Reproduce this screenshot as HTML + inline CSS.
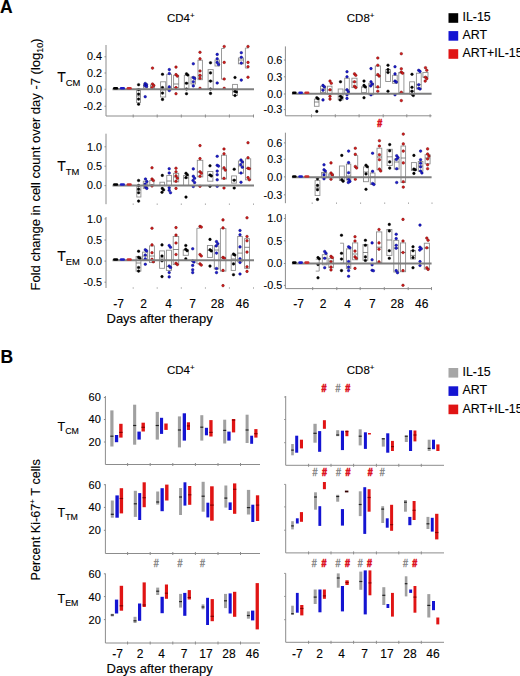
<!DOCTYPE html>
<html><head><meta charset="utf-8"><style>
html,body{margin:0;padding:0;background:#fff;}
svg{display:block;font-family:"Liberation Sans", sans-serif;}
text{stroke-width:0.12px;}
html,body{width:520px;height:676px;overflow:hidden;}
</style></head><body>
<svg width="520" height="676" viewBox="0 0 520 676">
<rect width="520" height="676" fill="#fff"/>
<text x="0" y="12.7" font-size="17.5" text-anchor="start" fill="#000" stroke="#000" font-weight="bold" >A</text>
<text x="0.6" y="362.9" font-size="17.5" text-anchor="start" fill="#000" stroke="#000" font-weight="bold" >B</text>
<text x="167" y="22" font-size="11.5" fill="#000" stroke="#000">CD4<tspan font-size="8" dy="-4">+</tspan></text>
<text x="346.8" y="22" font-size="11.5" fill="#000" stroke="#000">CD8<tspan font-size="8" dy="-4">+</tspan></text>
<text x="167" y="373.6" font-size="11.5" fill="#000" stroke="#000">CD4<tspan font-size="8" dy="-4">+</tspan></text>
<text x="346.8" y="373.6" font-size="11.5" fill="#000" stroke="#000">CD8<tspan font-size="8" dy="-4">+</tspan></text>
<rect x="448.50" y="13.20" width="9.70" height="9.60" fill="#000000" stroke="none" stroke-width="0"/>
<text x="462.5" y="21.1" font-size="12.4" text-anchor="start" fill="#000" stroke="#000" font-weight="normal" >IL-15</text>
<rect x="448.50" y="31.10" width="9.70" height="9.60" fill="#1414d2" stroke="none" stroke-width="0"/>
<text x="462.5" y="39.0" font-size="12.4" text-anchor="start" fill="#000" stroke="#000" font-weight="normal" >ART</text>
<rect x="448.50" y="49.20" width="9.70" height="9.60" fill="#e01414" stroke="none" stroke-width="0"/>
<text x="462.5" y="57.1" font-size="12.4" text-anchor="start" fill="#000" stroke="#000" font-weight="normal" >ART+IL-15</text>
<rect x="448.50" y="368.00" width="9.70" height="9.60" fill="#a6a6a6" stroke="none" stroke-width="0"/>
<text x="462.5" y="375.9" font-size="12.4" text-anchor="start" fill="#000" stroke="#000" font-weight="normal" >IL-15</text>
<rect x="448.50" y="386.30" width="9.70" height="9.60" fill="#1414d2" stroke="none" stroke-width="0"/>
<text x="462.5" y="394.2" font-size="12.4" text-anchor="start" fill="#000" stroke="#000" font-weight="normal" >ART</text>
<rect x="448.50" y="404.60" width="9.70" height="9.60" fill="#e01414" stroke="none" stroke-width="0"/>
<text x="462.5" y="412.5" font-size="12.4" text-anchor="start" fill="#000" stroke="#000" font-weight="normal" >ART+IL-15</text>
<text transform="translate(39.6,290.5) rotate(-90)" font-size="13" fill="#000" stroke="#000">Fold change in cell count over day -7 (log<tspan font-size="9" dy="3">10</tspan><tspan dy="-3">)</tspan></text>
<text transform="translate(39.6,580.5) rotate(-90)" font-size="12.7" fill="#000" stroke="#000">Percent Ki-67<tspan font-size="8" dy="-5">+</tspan><tspan dy="5"> T cells</tspan></text>
<text x="57.2" y="81.9" font-size="14" fill="#000" stroke="#000">T<tspan font-size="9.4" dy="4.2">CM</tspan></text>
<text x="57.2" y="171.1" font-size="14" fill="#000" stroke="#000">T<tspan font-size="9.4" dy="4.2">TM</tspan></text>
<text x="57.2" y="261.1" font-size="14" fill="#000" stroke="#000">T<tspan font-size="9.4" dy="4.2">EM</tspan></text>
<text x="57.5" y="430.6" font-size="12.5" fill="#000" stroke="#000">T<tspan font-size="8.8" dy="3.6">CM</tspan></text>
<text x="57.5" y="516.8" font-size="12.5" fill="#000" stroke="#000">T<tspan font-size="8.8" dy="3.6">TM</tspan></text>
<text x="57.5" y="602.8" font-size="12.5" fill="#000" stroke="#000">T<tspan font-size="8.8" dy="3.6">EM</tspan></text>
<line x1="106" y1="45" x2="106" y2="116" stroke="#8c8c8c" stroke-width="1"/>
<line x1="106" y1="116" x2="254" y2="116" stroke="#8c8c8c" stroke-width="1"/>
<line x1="133.2" y1="114.5" x2="133.2" y2="117.5" stroke="#8c8c8c" stroke-width="1"/>
<line x1="157.2" y1="114.5" x2="157.2" y2="117.5" stroke="#8c8c8c" stroke-width="1"/>
<line x1="181.3" y1="114.5" x2="181.3" y2="117.5" stroke="#8c8c8c" stroke-width="1"/>
<line x1="205.4" y1="114.5" x2="205.4" y2="117.5" stroke="#8c8c8c" stroke-width="1"/>
<line x1="229.4" y1="114.5" x2="229.4" y2="117.5" stroke="#8c8c8c" stroke-width="1"/>
<line x1="253.5" y1="114.5" x2="253.5" y2="117.5" stroke="#8c8c8c" stroke-width="1"/>
<line x1="104.5" y1="56.75" x2="106" y2="56.75" stroke="#8c8c8c" stroke-width="1"/>
<line x1="104.5" y1="73" x2="106" y2="73" stroke="#8c8c8c" stroke-width="1"/>
<line x1="104.5" y1="89.25" x2="106" y2="89.25" stroke="#8c8c8c" stroke-width="1"/>
<line x1="104.5" y1="106.25" x2="106" y2="106.25" stroke="#8c8c8c" stroke-width="1"/>
<text x="102" y="60.45" font-size="10.8" text-anchor="end" fill="#000" stroke="#000" font-weight="normal" >0.4</text>
<text x="102" y="76.7" font-size="10.8" text-anchor="end" fill="#000" stroke="#000" font-weight="normal" >0.2</text>
<text x="102" y="92.95" font-size="10.8" text-anchor="end" fill="#000" stroke="#000" font-weight="normal" >0.0</text>
<text x="102" y="109.95" font-size="10.8" text-anchor="end" fill="#000" stroke="#000" font-weight="normal" >-0.2</text>
<line x1="106" y1="133.7" x2="106" y2="204.2" stroke="#8c8c8c" stroke-width="1"/>
<line x1="133.2" y1="203.39999999999998" x2="133.2" y2="205.0" stroke="#b0b0b0" stroke-width="1"/>
<line x1="157.2" y1="203.39999999999998" x2="157.2" y2="205.0" stroke="#b0b0b0" stroke-width="1"/>
<line x1="181.3" y1="203.39999999999998" x2="181.3" y2="205.0" stroke="#b0b0b0" stroke-width="1"/>
<line x1="205.4" y1="203.39999999999998" x2="205.4" y2="205.0" stroke="#b0b0b0" stroke-width="1"/>
<line x1="229.4" y1="203.39999999999998" x2="229.4" y2="205.0" stroke="#b0b0b0" stroke-width="1"/>
<line x1="253.5" y1="203.39999999999998" x2="253.5" y2="205.0" stroke="#b0b0b0" stroke-width="1"/>
<line x1="104.5" y1="146.8" x2="106" y2="146.8" stroke="#8c8c8c" stroke-width="1"/>
<line x1="104.5" y1="166.2" x2="106" y2="166.2" stroke="#8c8c8c" stroke-width="1"/>
<line x1="104.5" y1="185.6" x2="106" y2="185.6" stroke="#8c8c8c" stroke-width="1"/>
<text x="102" y="150.5" font-size="10.8" text-anchor="end" fill="#000" stroke="#000" font-weight="normal" >1.0</text>
<text x="102" y="169.89999999999998" font-size="10.8" text-anchor="end" fill="#000" stroke="#000" font-weight="normal" >0.5</text>
<text x="102" y="189.29999999999998" font-size="10.8" text-anchor="end" fill="#000" stroke="#000" font-weight="normal" >0.0</text>
<line x1="106" y1="217" x2="106" y2="288" stroke="#8c8c8c" stroke-width="1"/>
<line x1="133.2" y1="287.2" x2="133.2" y2="288.8" stroke="#b0b0b0" stroke-width="1"/>
<line x1="157.2" y1="287.2" x2="157.2" y2="288.8" stroke="#b0b0b0" stroke-width="1"/>
<line x1="181.3" y1="287.2" x2="181.3" y2="288.8" stroke="#b0b0b0" stroke-width="1"/>
<line x1="205.4" y1="287.2" x2="205.4" y2="288.8" stroke="#b0b0b0" stroke-width="1"/>
<line x1="229.4" y1="287.2" x2="229.4" y2="288.8" stroke="#b0b0b0" stroke-width="1"/>
<line x1="253.5" y1="287.2" x2="253.5" y2="288.8" stroke="#b0b0b0" stroke-width="1"/>
<line x1="104.5" y1="218.9" x2="106" y2="218.9" stroke="#8c8c8c" stroke-width="1"/>
<line x1="104.5" y1="240" x2="106" y2="240" stroke="#8c8c8c" stroke-width="1"/>
<line x1="104.5" y1="261.1" x2="106" y2="261.1" stroke="#8c8c8c" stroke-width="1"/>
<line x1="104.5" y1="282.2" x2="106" y2="282.2" stroke="#8c8c8c" stroke-width="1"/>
<text x="102" y="222.6" font-size="10.8" text-anchor="end" fill="#000" stroke="#000" font-weight="normal" >1.0</text>
<text x="102" y="243.7" font-size="10.8" text-anchor="end" fill="#000" stroke="#000" font-weight="normal" >0.5</text>
<text x="102" y="264.8" font-size="10.8" text-anchor="end" fill="#000" stroke="#000" font-weight="normal" >0.0</text>
<text x="102" y="285.9" font-size="10.8" text-anchor="end" fill="#000" stroke="#000" font-weight="normal" >-0.5</text>
<line x1="285.4" y1="46.4" x2="285.4" y2="115.8" stroke="#8c8c8c" stroke-width="1"/>
<line x1="285.4" y1="115.8" x2="431.6" y2="115.8" stroke="#8c8c8c" stroke-width="1"/>
<line x1="311.5" y1="114.3" x2="311.5" y2="117.3" stroke="#8c8c8c" stroke-width="1"/>
<line x1="335.3" y1="114.3" x2="335.3" y2="117.3" stroke="#8c8c8c" stroke-width="1"/>
<line x1="359.1" y1="114.3" x2="359.1" y2="117.3" stroke="#8c8c8c" stroke-width="1"/>
<line x1="383.2" y1="114.3" x2="383.2" y2="117.3" stroke="#8c8c8c" stroke-width="1"/>
<line x1="406.8" y1="114.3" x2="406.8" y2="117.3" stroke="#8c8c8c" stroke-width="1"/>
<line x1="430.1" y1="114.3" x2="430.1" y2="117.3" stroke="#8c8c8c" stroke-width="1"/>
<line x1="283.9" y1="60" x2="285.4" y2="60" stroke="#8c8c8c" stroke-width="1"/>
<line x1="283.9" y1="76.8" x2="285.4" y2="76.8" stroke="#8c8c8c" stroke-width="1"/>
<line x1="283.9" y1="94" x2="285.4" y2="94" stroke="#8c8c8c" stroke-width="1"/>
<line x1="283.9" y1="109.6" x2="285.4" y2="109.6" stroke="#8c8c8c" stroke-width="1"/>
<text x="282.2" y="63.7" font-size="10.8" text-anchor="end" fill="#000" stroke="#000" font-weight="normal" >0.6</text>
<text x="282.2" y="80.5" font-size="10.8" text-anchor="end" fill="#000" stroke="#000" font-weight="normal" >0.3</text>
<text x="282.2" y="97.7" font-size="10.8" text-anchor="end" fill="#000" stroke="#000" font-weight="normal" >0.0</text>
<text x="282.2" y="113.3" font-size="10.8" text-anchor="end" fill="#000" stroke="#000" font-weight="normal" >-0.3</text>
<line x1="285.4" y1="132.7" x2="285.4" y2="203.2" stroke="#8c8c8c" stroke-width="1"/>
<line x1="312.2" y1="202.39999999999998" x2="312.2" y2="204.0" stroke="#b0b0b0" stroke-width="1"/>
<line x1="336.5" y1="202.39999999999998" x2="336.5" y2="204.0" stroke="#b0b0b0" stroke-width="1"/>
<line x1="360.6" y1="202.39999999999998" x2="360.6" y2="204.0" stroke="#b0b0b0" stroke-width="1"/>
<line x1="384.7" y1="202.39999999999998" x2="384.7" y2="204.0" stroke="#b0b0b0" stroke-width="1"/>
<line x1="408.5" y1="202.39999999999998" x2="408.5" y2="204.0" stroke="#b0b0b0" stroke-width="1"/>
<line x1="432" y1="202.39999999999998" x2="432" y2="204.0" stroke="#b0b0b0" stroke-width="1"/>
<line x1="283.9" y1="142.9" x2="285.4" y2="142.9" stroke="#8c8c8c" stroke-width="1"/>
<line x1="283.9" y1="159.3" x2="285.4" y2="159.3" stroke="#8c8c8c" stroke-width="1"/>
<line x1="283.9" y1="176.9" x2="285.4" y2="176.9" stroke="#8c8c8c" stroke-width="1"/>
<line x1="283.9" y1="194.8" x2="285.4" y2="194.8" stroke="#8c8c8c" stroke-width="1"/>
<text x="282.2" y="146.6" font-size="10.8" text-anchor="end" fill="#000" stroke="#000" font-weight="normal" >0.6</text>
<text x="282.2" y="163.0" font-size="10.8" text-anchor="end" fill="#000" stroke="#000" font-weight="normal" >0.3</text>
<text x="282.2" y="180.6" font-size="10.8" text-anchor="end" fill="#000" stroke="#000" font-weight="normal" >0.0</text>
<text x="282.2" y="198.5" font-size="10.8" text-anchor="end" fill="#000" stroke="#000" font-weight="normal" >-0.3</text>
<line x1="285.4" y1="214" x2="285.4" y2="288.6" stroke="#8c8c8c" stroke-width="1"/>
<line x1="285.4" y1="288.6" x2="431.6" y2="288.6" stroke="#8c8c8c" stroke-width="1"/>
<line x1="312.7" y1="287.1" x2="312.7" y2="290.1" stroke="#8c8c8c" stroke-width="1"/>
<line x1="336.8" y1="287.1" x2="336.8" y2="290.1" stroke="#8c8c8c" stroke-width="1"/>
<line x1="360.2" y1="287.1" x2="360.2" y2="290.1" stroke="#8c8c8c" stroke-width="1"/>
<line x1="384.3" y1="287.1" x2="384.3" y2="290.1" stroke="#8c8c8c" stroke-width="1"/>
<line x1="408.2" y1="287.1" x2="408.2" y2="290.1" stroke="#8c8c8c" stroke-width="1"/>
<line x1="431.5" y1="287.1" x2="431.5" y2="290.1" stroke="#8c8c8c" stroke-width="1"/>
<line x1="283.9" y1="218.5" x2="285.4" y2="218.5" stroke="#8c8c8c" stroke-width="1"/>
<line x1="283.9" y1="240.8" x2="285.4" y2="240.8" stroke="#8c8c8c" stroke-width="1"/>
<line x1="283.9" y1="263.5" x2="285.4" y2="263.5" stroke="#8c8c8c" stroke-width="1"/>
<line x1="283.9" y1="285.4" x2="285.4" y2="285.4" stroke="#8c8c8c" stroke-width="1"/>
<text x="282.2" y="222.2" font-size="10.8" text-anchor="end" fill="#000" stroke="#000" font-weight="normal" >1.0</text>
<text x="282.2" y="244.5" font-size="10.8" text-anchor="end" fill="#000" stroke="#000" font-weight="normal" >0.5</text>
<text x="282.2" y="267.2" font-size="10.8" text-anchor="end" fill="#000" stroke="#000" font-weight="normal" >0.0</text>
<text x="282.2" y="289.09999999999997" font-size="10.8" text-anchor="end" fill="#000" stroke="#000" font-weight="normal" >-0.5</text>
<text x="118.5" y="307.5" font-size="12" text-anchor="middle" fill="#000" stroke="#000" font-weight="normal" >-7</text>
<text x="143.5" y="307.5" font-size="12" text-anchor="middle" fill="#000" stroke="#000" font-weight="normal" >2</text>
<text x="168.5" y="307.5" font-size="12" text-anchor="middle" fill="#000" stroke="#000" font-weight="normal" >4</text>
<text x="192.5" y="307.5" font-size="12" text-anchor="middle" fill="#000" stroke="#000" font-weight="normal" >7</text>
<text x="217.5" y="307.5" font-size="12" text-anchor="middle" fill="#000" stroke="#000" font-weight="normal" >28</text>
<text x="242.5" y="307.5" font-size="12" text-anchor="middle" fill="#000" stroke="#000" font-weight="normal" >46</text>
<text x="298.6" y="307.5" font-size="12" text-anchor="middle" fill="#000" stroke="#000" font-weight="normal" >-7</text>
<text x="323" y="307.5" font-size="12" text-anchor="middle" fill="#000" stroke="#000" font-weight="normal" >2</text>
<text x="347.5" y="307.5" font-size="12" text-anchor="middle" fill="#000" stroke="#000" font-weight="normal" >4</text>
<text x="372.4" y="307.5" font-size="12" text-anchor="middle" fill="#000" stroke="#000" font-weight="normal" >7</text>
<text x="397.2" y="307.5" font-size="12" text-anchor="middle" fill="#000" stroke="#000" font-weight="normal" >28</text>
<text x="421.7" y="307.5" font-size="12" text-anchor="middle" fill="#000" stroke="#000" font-weight="normal" >46</text>
<text x="106.5" y="323" font-size="13" text-anchor="start" fill="#000" stroke="#000" font-weight="normal" >Days after therapy</text>
<rect x="136.60" y="89.00" width="3.90" height="13.70" fill="#ffffff" stroke="#8e8e8e" stroke-width="0.9"/>
<line x1="136.6" y1="96" x2="140.5" y2="96" stroke="#6a6a6a" stroke-width="0.8"/>
<circle cx="138.60" cy="84.70" r="1.3" fill="#000000" stroke="#000000" stroke-width="0.45"/>
<circle cx="138.60" cy="89.80" r="1.3" fill="#000000" stroke="#000000" stroke-width="0.45"/>
<circle cx="138.60" cy="94.10" r="1.3" fill="#000000" stroke="#000000" stroke-width="0.45"/>
<circle cx="138.60" cy="99.10" r="1.3" fill="#000000" stroke="#000000" stroke-width="0.45"/>
<circle cx="138.60" cy="104.20" r="1.3" fill="#000000" stroke="#000000" stroke-width="0.45"/>
<rect x="143.50" y="84.00" width="3.80" height="4.00" fill="#ffffff" stroke="#8e8e8e" stroke-width="0.9"/>
<circle cx="145.20" cy="83.50" r="1.3" fill="#1c1cd0" stroke="#000070" stroke-width="0.45"/>
<circle cx="146.50" cy="84.70" r="1.3" fill="#1c1cd0" stroke="#000070" stroke-width="0.45"/>
<circle cx="144.90" cy="85.50" r="1.3" fill="#1c1cd0" stroke="#000070" stroke-width="0.45"/>
<circle cx="146.50" cy="86.50" r="1.3" fill="#1c1cd0" stroke="#000070" stroke-width="0.45"/>
<circle cx="145.20" cy="96.70" r="1.3" fill="#1c1cd0" stroke="#000070" stroke-width="0.45"/>
<rect x="150.50" y="85.00" width="4.00" height="4.00" fill="#ffffff" stroke="#8e8e8e" stroke-width="0.9"/>
<circle cx="152.50" cy="68.10" r="1.3" fill="#d81c1c" stroke="#6a0808" stroke-width="0.45"/>
<circle cx="152.50" cy="84.00" r="1.3" fill="#d81c1c" stroke="#6a0808" stroke-width="0.45"/>
<circle cx="153.80" cy="85.50" r="1.3" fill="#d81c1c" stroke="#6a0808" stroke-width="0.45"/>
<circle cx="152.20" cy="87.50" r="1.3" fill="#d81c1c" stroke="#6a0808" stroke-width="0.45"/>
<rect x="160.60" y="81.80" width="5.10" height="15.20" fill="#ffffff" stroke="#8e8e8e" stroke-width="0.9"/>
<line x1="160.6" y1="90" x2="165.7" y2="90" stroke="#6a6a6a" stroke-width="0.8"/>
<circle cx="162.50" cy="74.30" r="1.3" fill="#000000" stroke="#000000" stroke-width="0.45"/>
<circle cx="162.50" cy="87.60" r="1.3" fill="#000000" stroke="#000000" stroke-width="0.45"/>
<circle cx="162.50" cy="93.10" r="1.3" fill="#000000" stroke="#000000" stroke-width="0.45"/>
<circle cx="162.50" cy="99.40" r="1.3" fill="#000000" stroke="#000000" stroke-width="0.45"/>
<rect x="166.80" y="74.30" width="4.70" height="15.50" fill="#ffffff" stroke="#8e8e8e" stroke-width="0.9"/>
<line x1="166.8" y1="88" x2="171.5" y2="88" stroke="#6a6a6a" stroke-width="0.8"/>
<circle cx="169.30" cy="69.60" r="1.3" fill="#1c1cd0" stroke="#000070" stroke-width="0.45"/>
<circle cx="169.30" cy="73.50" r="1.3" fill="#1c1cd0" stroke="#000070" stroke-width="0.45"/>
<circle cx="169.30" cy="86.90" r="1.3" fill="#1c1cd0" stroke="#000070" stroke-width="0.45"/>
<circle cx="169.30" cy="90.50" r="1.3" fill="#1c1cd0" stroke="#000070" stroke-width="0.45"/>
<rect x="173.60" y="75.30" width="5.10" height="12.30" fill="#ffffff" stroke="#8e8e8e" stroke-width="0.9"/>
<line x1="173.6" y1="84" x2="178.7" y2="84" stroke="#6a6a6a" stroke-width="0.8"/>
<circle cx="176.00" cy="67.10" r="1.3" fill="#d81c1c" stroke="#6a0808" stroke-width="0.45"/>
<circle cx="176.00" cy="74.60" r="1.3" fill="#d81c1c" stroke="#6a0808" stroke-width="0.45"/>
<circle cx="177.30" cy="76.10" r="1.3" fill="#d81c1c" stroke="#6a0808" stroke-width="0.45"/>
<circle cx="176.00" cy="87.60" r="1.3" fill="#d81c1c" stroke="#6a0808" stroke-width="0.45"/>
<circle cx="176.00" cy="93.70" r="1.3" fill="#d81c1c" stroke="#6a0808" stroke-width="0.45"/>
<rect x="184.30" y="75.30" width="4.60" height="13.70" fill="#ffffff" stroke="#8e8e8e" stroke-width="0.9"/>
<line x1="184.3" y1="83" x2="188.9" y2="83" stroke="#6a6a6a" stroke-width="0.8"/>
<circle cx="186.50" cy="73.90" r="1.3" fill="#000000" stroke="#000000" stroke-width="0.45"/>
<circle cx="187.80" cy="75.00" r="1.3" fill="#000000" stroke="#000000" stroke-width="0.45"/>
<circle cx="186.50" cy="83.30" r="1.3" fill="#000000" stroke="#000000" stroke-width="0.45"/>
<circle cx="186.50" cy="89.00" r="1.3" fill="#000000" stroke="#000000" stroke-width="0.45"/>
<circle cx="186.50" cy="93.70" r="1.3" fill="#000000" stroke="#000000" stroke-width="0.45"/>
<rect x="191.00" y="77.00" width="4.50" height="7.00" fill="#ffffff" stroke="#8e8e8e" stroke-width="0.9"/>
<circle cx="193.30" cy="63.80" r="1.3" fill="#1c1cd0" stroke="#000070" stroke-width="0.45"/>
<circle cx="193.30" cy="77.50" r="1.3" fill="#1c1cd0" stroke="#000070" stroke-width="0.45"/>
<circle cx="194.60" cy="78.50" r="1.3" fill="#1c1cd0" stroke="#000070" stroke-width="0.45"/>
<circle cx="193.30" cy="81.80" r="1.3" fill="#1c1cd0" stroke="#000070" stroke-width="0.45"/>
<circle cx="193.30" cy="85.90" r="1.3" fill="#1c1cd0" stroke="#000070" stroke-width="0.45"/>
<rect x="198.00" y="60.20" width="4.40" height="19.50" fill="#ffffff" stroke="#8e8e8e" stroke-width="0.9"/>
<line x1="198" y1="76" x2="202.4" y2="76" stroke="#6a6a6a" stroke-width="0.8"/>
<circle cx="200.00" cy="52.30" r="1.3" fill="#d81c1c" stroke="#6a0808" stroke-width="0.45"/>
<circle cx="200.00" cy="58.80" r="1.3" fill="#d81c1c" stroke="#6a0808" stroke-width="0.45"/>
<circle cx="200.00" cy="71.00" r="1.3" fill="#d81c1c" stroke="#6a0808" stroke-width="0.45"/>
<circle cx="200.00" cy="75.30" r="1.3" fill="#d81c1c" stroke="#6a0808" stroke-width="0.45"/>
<circle cx="200.00" cy="78.20" r="1.3" fill="#d81c1c" stroke="#6a0808" stroke-width="0.45"/>
<circle cx="200.00" cy="88.30" r="1.3" fill="#d81c1c" stroke="#6a0808" stroke-width="0.45"/>
<rect x="208.10" y="69.60" width="5.10" height="19.40" fill="#ffffff" stroke="#8e8e8e" stroke-width="0.9"/>
<line x1="208.1" y1="81.1" x2="213.2" y2="81.1" stroke="#6a6a6a" stroke-width="0.8"/>
<circle cx="210.50" cy="62.80" r="1.3" fill="#000000" stroke="#000000" stroke-width="0.45"/>
<circle cx="210.50" cy="72.90" r="1.3" fill="#000000" stroke="#000000" stroke-width="0.45"/>
<circle cx="210.50" cy="81.10" r="1.3" fill="#000000" stroke="#000000" stroke-width="0.45"/>
<circle cx="210.50" cy="89.00" r="1.3" fill="#000000" stroke="#000000" stroke-width="0.45"/>
<circle cx="210.50" cy="93.40" r="1.3" fill="#000000" stroke="#000000" stroke-width="0.45"/>
<rect x="215.00" y="60.00" width="4.50" height="6.00" fill="#ffffff" stroke="#8e8e8e" stroke-width="0.9"/>
<circle cx="217.20" cy="54.40" r="1.3" fill="#1c1cd0" stroke="#000070" stroke-width="0.45"/>
<circle cx="217.20" cy="58.80" r="1.3" fill="#1c1cd0" stroke="#000070" stroke-width="0.45"/>
<circle cx="217.20" cy="62.40" r="1.3" fill="#1c1cd0" stroke="#000070" stroke-width="0.45"/>
<circle cx="218.50" cy="64.50" r="1.3" fill="#1c1cd0" stroke="#000070" stroke-width="0.45"/>
<circle cx="217.20" cy="83.00" r="1.3" fill="#1c1cd0" stroke="#000070" stroke-width="0.45"/>
<path d="M224.50,48.50H221.50V79.20H224.50" fill="none" stroke="#8e8e8e" stroke-width="0.9"/>
<circle cx="224.20" cy="46.50" r="1.3" fill="#d81c1c" stroke="#6a0808" stroke-width="0.45"/>
<circle cx="224.20" cy="62.40" r="1.3" fill="#d81c1c" stroke="#6a0808" stroke-width="0.45"/>
<circle cx="224.20" cy="79.00" r="1.3" fill="#d81c1c" stroke="#6a0808" stroke-width="0.45"/>
<circle cx="224.20" cy="88.30" r="1.3" fill="#d81c1c" stroke="#6a0808" stroke-width="0.45"/>
<rect x="232.60" y="84.40" width="4.80" height="11.10" fill="#ffffff" stroke="#8e8e8e" stroke-width="0.9"/>
<line x1="232.6" y1="92" x2="237.4" y2="92" stroke="#6a6a6a" stroke-width="0.8"/>
<circle cx="235.00" cy="77.50" r="1.3" fill="#000000" stroke="#000000" stroke-width="0.45"/>
<circle cx="235.00" cy="91.20" r="1.3" fill="#000000" stroke="#000000" stroke-width="0.45"/>
<circle cx="236.30" cy="92.00" r="1.3" fill="#000000" stroke="#000000" stroke-width="0.45"/>
<circle cx="235.00" cy="95.50" r="1.3" fill="#000000" stroke="#000000" stroke-width="0.45"/>
<rect x="238.40" y="58.00" width="5.10" height="5.80" fill="#ffffff" stroke="#8e8e8e" stroke-width="0.9"/>
<line x1="238.4" y1="60" x2="243.5" y2="60" stroke="#6a6a6a" stroke-width="0.8"/>
<circle cx="241.30" cy="52.70" r="1.3" fill="#1c1cd0" stroke="#000070" stroke-width="0.45"/>
<circle cx="241.30" cy="57.30" r="1.3" fill="#1c1cd0" stroke="#000070" stroke-width="0.45"/>
<circle cx="241.30" cy="63.10" r="1.3" fill="#1c1cd0" stroke="#000070" stroke-width="0.45"/>
<circle cx="241.30" cy="80.10" r="1.3" fill="#1c1cd0" stroke="#000070" stroke-width="0.45"/>
<path d="M248.40,48.00H245.40V68.10H248.40" fill="none" stroke="#8e8e8e" stroke-width="0.9"/>
<circle cx="248.00" cy="46.50" r="1.3" fill="#d81c1c" stroke="#6a0808" stroke-width="0.45"/>
<circle cx="248.00" cy="62.40" r="1.3" fill="#d81c1c" stroke="#6a0808" stroke-width="0.45"/>
<circle cx="248.00" cy="66.70" r="1.3" fill="#d81c1c" stroke="#6a0808" stroke-width="0.45"/>
<circle cx="248.00" cy="77.20" r="1.3" fill="#d81c1c" stroke="#6a0808" stroke-width="0.45"/>
<rect x="136.80" y="185.50" width="4.10" height="11.50" fill="#ffffff" stroke="#8e8e8e" stroke-width="0.9"/>
<line x1="136.8" y1="190" x2="140.9" y2="190" stroke="#6a6a6a" stroke-width="0.8"/>
<circle cx="138.60" cy="180.50" r="1.3" fill="#000000" stroke="#000000" stroke-width="0.45"/>
<circle cx="138.60" cy="185.50" r="1.3" fill="#000000" stroke="#000000" stroke-width="0.45"/>
<circle cx="138.60" cy="189.10" r="1.3" fill="#000000" stroke="#000000" stroke-width="0.45"/>
<circle cx="138.60" cy="192.70" r="1.3" fill="#000000" stroke="#000000" stroke-width="0.45"/>
<circle cx="138.60" cy="201.10" r="1.3" fill="#000000" stroke="#000000" stroke-width="0.45"/>
<rect x="143.30" y="181.20" width="4.40" height="7.20" fill="#ffffff" stroke="#8e8e8e" stroke-width="0.9"/>
<circle cx="145.50" cy="179.00" r="1.3" fill="#1c1cd0" stroke="#000070" stroke-width="0.45"/>
<circle cx="146.80" cy="181.60" r="1.3" fill="#1c1cd0" stroke="#000070" stroke-width="0.45"/>
<circle cx="145.20" cy="184.10" r="1.3" fill="#1c1cd0" stroke="#000070" stroke-width="0.45"/>
<circle cx="145.50" cy="187.00" r="1.3" fill="#1c1cd0" stroke="#000070" stroke-width="0.45"/>
<circle cx="146.80" cy="188.40" r="1.3" fill="#1c1cd0" stroke="#000070" stroke-width="0.45"/>
<rect x="149.80" y="180.50" width="4.10" height="4.30" fill="#ffffff" stroke="#8e8e8e" stroke-width="0.9"/>
<circle cx="152.00" cy="167.80" r="1.3" fill="#d81c1c" stroke="#6a0808" stroke-width="0.45"/>
<circle cx="152.00" cy="179.00" r="1.3" fill="#d81c1c" stroke="#6a0808" stroke-width="0.45"/>
<circle cx="153.30" cy="180.50" r="1.3" fill="#d81c1c" stroke="#6a0808" stroke-width="0.45"/>
<circle cx="152.00" cy="186.00" r="1.3" fill="#d81c1c" stroke="#6a0808" stroke-width="0.45"/>
<rect x="159.90" y="182.20" width="4.60" height="3.30" fill="#ffffff" stroke="#8e8e8e" stroke-width="0.9"/>
<circle cx="162.30" cy="175.40" r="1.3" fill="#000000" stroke="#000000" stroke-width="0.45"/>
<circle cx="162.30" cy="188.40" r="1.3" fill="#000000" stroke="#000000" stroke-width="0.45"/>
<circle cx="163.60" cy="189.90" r="1.3" fill="#000000" stroke="#000000" stroke-width="0.45"/>
<circle cx="162.00" cy="192.30" r="1.3" fill="#000000" stroke="#000000" stroke-width="0.45"/>
<rect x="166.80" y="175.40" width="4.70" height="10.10" fill="#ffffff" stroke="#8e8e8e" stroke-width="0.9"/>
<line x1="166.8" y1="181" x2="171.5" y2="181" stroke="#6a6a6a" stroke-width="0.8"/>
<circle cx="169.20" cy="168.70" r="1.3" fill="#1c1cd0" stroke="#000070" stroke-width="0.45"/>
<circle cx="169.20" cy="173.00" r="1.3" fill="#1c1cd0" stroke="#000070" stroke-width="0.45"/>
<circle cx="169.20" cy="187.70" r="1.3" fill="#1c1cd0" stroke="#000070" stroke-width="0.45"/>
<circle cx="169.20" cy="190.30" r="1.3" fill="#1c1cd0" stroke="#000070" stroke-width="0.45"/>
<circle cx="170.50" cy="192.70" r="1.3" fill="#1c1cd0" stroke="#000070" stroke-width="0.45"/>
<rect x="173.60" y="173.30" width="5.10" height="8.60" fill="#ffffff" stroke="#8e8e8e" stroke-width="0.9"/>
<line x1="173.6" y1="177" x2="178.7" y2="177" stroke="#6a6a6a" stroke-width="0.8"/>
<circle cx="176.00" cy="168.20" r="1.3" fill="#d81c1c" stroke="#6a0808" stroke-width="0.45"/>
<circle cx="176.00" cy="171.80" r="1.3" fill="#d81c1c" stroke="#6a0808" stroke-width="0.45"/>
<circle cx="176.00" cy="175.90" r="1.3" fill="#d81c1c" stroke="#6a0808" stroke-width="0.45"/>
<circle cx="177.30" cy="178.30" r="1.3" fill="#d81c1c" stroke="#6a0808" stroke-width="0.45"/>
<circle cx="176.00" cy="181.20" r="1.3" fill="#d81c1c" stroke="#6a0808" stroke-width="0.45"/>
<circle cx="176.00" cy="188.40" r="1.3" fill="#d81c1c" stroke="#6a0808" stroke-width="0.45"/>
<rect x="183.60" y="175.40" width="5.10" height="10.10" fill="#ffffff" stroke="#8e8e8e" stroke-width="0.9"/>
<line x1="183.6" y1="178" x2="188.7" y2="178" stroke="#6a6a6a" stroke-width="0.8"/>
<circle cx="186.00" cy="173.30" r="1.3" fill="#000000" stroke="#000000" stroke-width="0.45"/>
<circle cx="187.30" cy="174.70" r="1.3" fill="#000000" stroke="#000000" stroke-width="0.45"/>
<circle cx="186.00" cy="177.60" r="1.3" fill="#000000" stroke="#000000" stroke-width="0.45"/>
<circle cx="186.00" cy="197.10" r="1.3" fill="#000000" stroke="#000000" stroke-width="0.45"/>
<circle cx="193.30" cy="168.90" r="1.3" fill="#1c1cd0" stroke="#000070" stroke-width="0.45"/>
<circle cx="193.30" cy="176.20" r="1.3" fill="#1c1cd0" stroke="#000070" stroke-width="0.45"/>
<circle cx="194.60" cy="178.30" r="1.3" fill="#1c1cd0" stroke="#000070" stroke-width="0.45"/>
<circle cx="193.00" cy="180.50" r="1.3" fill="#1c1cd0" stroke="#000070" stroke-width="0.45"/>
<circle cx="194.60" cy="182.60" r="1.3" fill="#1c1cd0" stroke="#000070" stroke-width="0.45"/>
<circle cx="193.30" cy="186.50" r="1.3" fill="#1c1cd0" stroke="#000070" stroke-width="0.45"/>
<rect x="197.30" y="160.30" width="5.50" height="16.60" fill="#ffffff" stroke="#8e8e8e" stroke-width="0.9"/>
<line x1="197.3" y1="172" x2="202.8" y2="172" stroke="#6a6a6a" stroke-width="0.8"/>
<circle cx="200.00" cy="145.60" r="1.3" fill="#d81c1c" stroke="#6a0808" stroke-width="0.45"/>
<circle cx="200.00" cy="158.60" r="1.3" fill="#d81c1c" stroke="#6a0808" stroke-width="0.45"/>
<circle cx="200.00" cy="171.80" r="1.3" fill="#d81c1c" stroke="#6a0808" stroke-width="0.45"/>
<circle cx="201.30" cy="173.30" r="1.3" fill="#d81c1c" stroke="#6a0808" stroke-width="0.45"/>
<circle cx="200.00" cy="176.20" r="1.3" fill="#d81c1c" stroke="#6a0808" stroke-width="0.45"/>
<circle cx="200.00" cy="186.30" r="1.3" fill="#d81c1c" stroke="#6a0808" stroke-width="0.45"/>
<rect x="207.70" y="171.50" width="5.20" height="9.70" fill="#ffffff" stroke="#8e8e8e" stroke-width="0.9"/>
<line x1="207.7" y1="175.5" x2="212.9" y2="175.5" stroke="#6a6a6a" stroke-width="0.8"/>
<circle cx="210.00" cy="165.80" r="1.3" fill="#000000" stroke="#000000" stroke-width="0.45"/>
<circle cx="210.00" cy="175.00" r="1.3" fill="#000000" stroke="#000000" stroke-width="0.45"/>
<circle cx="211.30" cy="175.90" r="1.3" fill="#000000" stroke="#000000" stroke-width="0.45"/>
<circle cx="210.00" cy="186.30" r="1.3" fill="#000000" stroke="#000000" stroke-width="0.45"/>
<circle cx="217.20" cy="156.30" r="1.3" fill="#1c1cd0" stroke="#000070" stroke-width="0.45"/>
<circle cx="217.20" cy="165.30" r="1.3" fill="#1c1cd0" stroke="#000070" stroke-width="0.45"/>
<circle cx="218.50" cy="166.10" r="1.3" fill="#1c1cd0" stroke="#000070" stroke-width="0.45"/>
<circle cx="217.20" cy="171.10" r="1.3" fill="#1c1cd0" stroke="#000070" stroke-width="0.45"/>
<circle cx="217.20" cy="174.70" r="1.3" fill="#1c1cd0" stroke="#000070" stroke-width="0.45"/>
<circle cx="217.20" cy="179.80" r="1.3" fill="#1c1cd0" stroke="#000070" stroke-width="0.45"/>
<circle cx="217.20" cy="186.30" r="1.3" fill="#1c1cd0" stroke="#000070" stroke-width="0.45"/>
<rect x="221.50" y="155.20" width="4.90" height="23.80" fill="#ffffff" stroke="#8e8e8e" stroke-width="0.9"/>
<line x1="221.5" y1="169" x2="226.4" y2="169" stroke="#6a6a6a" stroke-width="0.8"/>
<circle cx="224.00" cy="149.00" r="1.3" fill="#d81c1c" stroke="#6a0808" stroke-width="0.45"/>
<circle cx="224.00" cy="153.80" r="1.3" fill="#d81c1c" stroke="#6a0808" stroke-width="0.45"/>
<circle cx="224.00" cy="167.80" r="1.3" fill="#d81c1c" stroke="#6a0808" stroke-width="0.45"/>
<circle cx="225.30" cy="170.10" r="1.3" fill="#d81c1c" stroke="#6a0808" stroke-width="0.45"/>
<circle cx="224.00" cy="178.30" r="1.3" fill="#d81c1c" stroke="#6a0808" stroke-width="0.45"/>
<circle cx="224.00" cy="188.00" r="1.3" fill="#d81c1c" stroke="#6a0808" stroke-width="0.45"/>
<rect x="231.60" y="175.90" width="4.90" height="7.20" fill="#ffffff" stroke="#8e8e8e" stroke-width="0.9"/>
<line x1="231.6" y1="180" x2="236.5" y2="180" stroke="#6a6a6a" stroke-width="0.8"/>
<circle cx="234.20" cy="169.20" r="1.3" fill="#000000" stroke="#000000" stroke-width="0.45"/>
<circle cx="234.20" cy="180.20" r="1.3" fill="#000000" stroke="#000000" stroke-width="0.45"/>
<circle cx="234.20" cy="188.00" r="1.3" fill="#000000" stroke="#000000" stroke-width="0.45"/>
<rect x="238.40" y="161.00" width="5.10" height="12.30" fill="#ffffff" stroke="#8e8e8e" stroke-width="0.9"/>
<line x1="238.4" y1="166" x2="243.5" y2="166" stroke="#6a6a6a" stroke-width="0.8"/>
<circle cx="241.00" cy="160.00" r="1.3" fill="#1c1cd0" stroke="#000070" stroke-width="0.45"/>
<circle cx="242.30" cy="162.00" r="1.3" fill="#1c1cd0" stroke="#000070" stroke-width="0.45"/>
<circle cx="240.70" cy="164.60" r="1.3" fill="#1c1cd0" stroke="#000070" stroke-width="0.45"/>
<circle cx="242.30" cy="167.20" r="1.3" fill="#1c1cd0" stroke="#000070" stroke-width="0.45"/>
<circle cx="241.00" cy="173.00" r="1.3" fill="#1c1cd0" stroke="#000070" stroke-width="0.45"/>
<circle cx="241.00" cy="182.20" r="1.3" fill="#1c1cd0" stroke="#000070" stroke-width="0.45"/>
<rect x="245.60" y="158.80" width="5.10" height="21.00" fill="#ffffff" stroke="#8e8e8e" stroke-width="0.9"/>
<line x1="245.6" y1="168.4" x2="250.7" y2="168.4" stroke="#6a6a6a" stroke-width="0.8"/>
<circle cx="248.00" cy="142.70" r="1.3" fill="#d81c1c" stroke="#6a0808" stroke-width="0.45"/>
<circle cx="248.00" cy="157.70" r="1.3" fill="#d81c1c" stroke="#6a0808" stroke-width="0.45"/>
<circle cx="248.00" cy="168.20" r="1.3" fill="#d81c1c" stroke="#6a0808" stroke-width="0.45"/>
<circle cx="249.30" cy="168.70" r="1.3" fill="#d81c1c" stroke="#6a0808" stroke-width="0.45"/>
<circle cx="248.00" cy="177.60" r="1.3" fill="#d81c1c" stroke="#6a0808" stroke-width="0.45"/>
<circle cx="249.30" cy="179.80" r="1.3" fill="#d81c1c" stroke="#6a0808" stroke-width="0.45"/>
<rect x="136.10" y="256.40" width="4.80" height="14.70" fill="#ffffff" stroke="#8e8e8e" stroke-width="0.9"/>
<line x1="136.1" y1="263" x2="140.9" y2="263" stroke="#6a6a6a" stroke-width="0.8"/>
<circle cx="138.60" cy="251.20" r="1.3" fill="#000000" stroke="#000000" stroke-width="0.45"/>
<circle cx="138.60" cy="257.40" r="1.3" fill="#000000" stroke="#000000" stroke-width="0.45"/>
<circle cx="139.90" cy="258.40" r="1.3" fill="#000000" stroke="#000000" stroke-width="0.45"/>
<circle cx="138.60" cy="267.50" r="1.3" fill="#000000" stroke="#000000" stroke-width="0.45"/>
<circle cx="138.60" cy="271.10" r="1.3" fill="#000000" stroke="#000000" stroke-width="0.45"/>
<rect x="142.60" y="252.10" width="5.10" height="7.50" fill="#ffffff" stroke="#8e8e8e" stroke-width="0.9"/>
<line x1="142.6" y1="256" x2="147.7" y2="256" stroke="#6a6a6a" stroke-width="0.8"/>
<circle cx="145.30" cy="249.80" r="1.3" fill="#1c1cd0" stroke="#000070" stroke-width="0.45"/>
<circle cx="146.60" cy="250.90" r="1.3" fill="#1c1cd0" stroke="#000070" stroke-width="0.45"/>
<circle cx="145.30" cy="255.00" r="1.3" fill="#1c1cd0" stroke="#000070" stroke-width="0.45"/>
<circle cx="145.30" cy="258.90" r="1.3" fill="#1c1cd0" stroke="#000070" stroke-width="0.45"/>
<circle cx="145.30" cy="264.20" r="1.3" fill="#1c1cd0" stroke="#000070" stroke-width="0.45"/>
<rect x="149.50" y="245.90" width="4.90" height="16.60" fill="#ffffff" stroke="#8e8e8e" stroke-width="0.9"/>
<line x1="149.5" y1="256" x2="154.4" y2="256" stroke="#6a6a6a" stroke-width="0.8"/>
<circle cx="152.00" cy="228.20" r="1.3" fill="#d81c1c" stroke="#6a0808" stroke-width="0.45"/>
<circle cx="152.00" cy="244.90" r="1.3" fill="#d81c1c" stroke="#6a0808" stroke-width="0.45"/>
<circle cx="152.00" cy="252.70" r="1.3" fill="#d81c1c" stroke="#6a0808" stroke-width="0.45"/>
<circle cx="152.00" cy="259.30" r="1.3" fill="#d81c1c" stroke="#6a0808" stroke-width="0.45"/>
<circle cx="153.30" cy="261.80" r="1.3" fill="#d81c1c" stroke="#6a0808" stroke-width="0.45"/>
<rect x="159.60" y="250.90" width="4.90" height="17.40" fill="#ffffff" stroke="#8e8e8e" stroke-width="0.9"/>
<line x1="159.6" y1="258" x2="164.5" y2="258" stroke="#6a6a6a" stroke-width="0.8"/>
<circle cx="162.00" cy="244.90" r="1.3" fill="#000000" stroke="#000000" stroke-width="0.45"/>
<circle cx="162.00" cy="256.00" r="1.3" fill="#000000" stroke="#000000" stroke-width="0.45"/>
<circle cx="162.00" cy="260.80" r="1.3" fill="#000000" stroke="#000000" stroke-width="0.45"/>
<circle cx="162.00" cy="276.60" r="1.3" fill="#000000" stroke="#000000" stroke-width="0.45"/>
<rect x="166.40" y="250.20" width="5.10" height="20.20" fill="#ffffff" stroke="#8e8e8e" stroke-width="0.9"/>
<line x1="166.4" y1="266.5" x2="171.5" y2="266.5" stroke="#6a6a6a" stroke-width="0.8"/>
<circle cx="169.20" cy="245.50" r="1.3" fill="#1c1cd0" stroke="#000070" stroke-width="0.45"/>
<circle cx="170.50" cy="247.30" r="1.3" fill="#1c1cd0" stroke="#000070" stroke-width="0.45"/>
<circle cx="169.20" cy="266.10" r="1.3" fill="#1c1cd0" stroke="#000070" stroke-width="0.45"/>
<circle cx="170.50" cy="267.50" r="1.3" fill="#1c1cd0" stroke="#000070" stroke-width="0.45"/>
<circle cx="169.20" cy="272.60" r="1.3" fill="#1c1cd0" stroke="#000070" stroke-width="0.45"/>
<circle cx="169.20" cy="276.90" r="1.3" fill="#1c1cd0" stroke="#000070" stroke-width="0.45"/>
<rect x="173.20" y="236.50" width="5.50" height="28.10" fill="#ffffff" stroke="#8e8e8e" stroke-width="0.9"/>
<line x1="173.2" y1="249.5" x2="178.7" y2="249.5" stroke="#6a6a6a" stroke-width="0.8"/>
<circle cx="176.00" cy="227.60" r="1.3" fill="#d81c1c" stroke="#6a0808" stroke-width="0.45"/>
<circle cx="176.00" cy="235.10" r="1.3" fill="#d81c1c" stroke="#6a0808" stroke-width="0.45"/>
<circle cx="176.00" cy="243.00" r="1.3" fill="#d81c1c" stroke="#6a0808" stroke-width="0.45"/>
<circle cx="176.00" cy="254.50" r="1.3" fill="#d81c1c" stroke="#6a0808" stroke-width="0.45"/>
<circle cx="176.00" cy="263.20" r="1.3" fill="#d81c1c" stroke="#6a0808" stroke-width="0.45"/>
<circle cx="177.30" cy="264.60" r="1.3" fill="#d81c1c" stroke="#6a0808" stroke-width="0.45"/>
<rect x="183.20" y="249.80" width="5.20" height="5.50" fill="#ffffff" stroke="#8e8e8e" stroke-width="0.9"/>
<line x1="183.2" y1="250" x2="188.4" y2="250" stroke="#6a6a6a" stroke-width="0.8"/>
<circle cx="185.80" cy="245.50" r="1.3" fill="#000000" stroke="#000000" stroke-width="0.45"/>
<circle cx="185.80" cy="249.20" r="1.3" fill="#000000" stroke="#000000" stroke-width="0.45"/>
<circle cx="187.10" cy="250.70" r="1.3" fill="#000000" stroke="#000000" stroke-width="0.45"/>
<circle cx="185.80" cy="258.90" r="1.3" fill="#000000" stroke="#000000" stroke-width="0.45"/>
<circle cx="192.70" cy="248.80" r="1.3" fill="#1c1cd0" stroke="#000070" stroke-width="0.45"/>
<circle cx="192.70" cy="261.00" r="1.3" fill="#1c1cd0" stroke="#000070" stroke-width="0.45"/>
<circle cx="194.00" cy="262.00" r="1.3" fill="#1c1cd0" stroke="#000070" stroke-width="0.45"/>
<circle cx="192.70" cy="265.40" r="1.3" fill="#1c1cd0" stroke="#000070" stroke-width="0.45"/>
<circle cx="192.70" cy="269.70" r="1.3" fill="#1c1cd0" stroke="#000070" stroke-width="0.45"/>
<circle cx="192.70" cy="272.60" r="1.3" fill="#1c1cd0" stroke="#000070" stroke-width="0.45"/>
<path d="M199.90,228.30H196.90V263.80H199.90" fill="none" stroke="#8e8e8e" stroke-width="0.9"/>
<circle cx="200.00" cy="226.40" r="1.3" fill="#d81c1c" stroke="#6a0808" stroke-width="0.45"/>
<circle cx="201.30" cy="227.10" r="1.3" fill="#d81c1c" stroke="#6a0808" stroke-width="0.45"/>
<circle cx="200.00" cy="254.50" r="1.3" fill="#d81c1c" stroke="#6a0808" stroke-width="0.45"/>
<circle cx="201.30" cy="256.00" r="1.3" fill="#d81c1c" stroke="#6a0808" stroke-width="0.45"/>
<circle cx="200.00" cy="263.90" r="1.3" fill="#d81c1c" stroke="#6a0808" stroke-width="0.45"/>
<circle cx="201.30" cy="265.10" r="1.3" fill="#d81c1c" stroke="#6a0808" stroke-width="0.45"/>
<rect x="207.40" y="245.50" width="5.10" height="11.90" fill="#ffffff" stroke="#8e8e8e" stroke-width="0.9"/>
<line x1="207.4" y1="250.3" x2="212.5" y2="250.3" stroke="#6a6a6a" stroke-width="0.8"/>
<circle cx="210.00" cy="239.40" r="1.3" fill="#000000" stroke="#000000" stroke-width="0.45"/>
<circle cx="210.00" cy="249.80" r="1.3" fill="#000000" stroke="#000000" stroke-width="0.45"/>
<circle cx="211.30" cy="250.90" r="1.3" fill="#000000" stroke="#000000" stroke-width="0.45"/>
<circle cx="210.00" cy="266.10" r="1.3" fill="#000000" stroke="#000000" stroke-width="0.45"/>
<rect x="214.30" y="245.90" width="4.60" height="23.10" fill="#ffffff" stroke="#8e8e8e" stroke-width="0.9"/>
<line x1="214.3" y1="250" x2="218.9" y2="250" stroke="#6a6a6a" stroke-width="0.8"/>
<circle cx="216.50" cy="241.60" r="1.3" fill="#1c1cd0" stroke="#000070" stroke-width="0.45"/>
<circle cx="217.80" cy="243.70" r="1.3" fill="#1c1cd0" stroke="#000070" stroke-width="0.45"/>
<circle cx="216.20" cy="245.90" r="1.3" fill="#1c1cd0" stroke="#000070" stroke-width="0.45"/>
<circle cx="216.50" cy="253.10" r="1.3" fill="#1c1cd0" stroke="#000070" stroke-width="0.45"/>
<circle cx="216.50" cy="268.50" r="1.3" fill="#1c1cd0" stroke="#000070" stroke-width="0.45"/>
<circle cx="216.50" cy="272.60" r="1.3" fill="#1c1cd0" stroke="#000070" stroke-width="0.45"/>
<rect x="220.40" y="228.60" width="5.50" height="42.50" fill="#ffffff" stroke="#8e8e8e" stroke-width="0.9"/>
<line x1="220.4" y1="257.8" x2="225.9" y2="257.8" stroke="#6a6a6a" stroke-width="0.8"/>
<circle cx="223.00" cy="219.90" r="1.3" fill="#d81c1c" stroke="#6a0808" stroke-width="0.45"/>
<circle cx="223.00" cy="227.90" r="1.3" fill="#d81c1c" stroke="#6a0808" stroke-width="0.45"/>
<circle cx="223.00" cy="257.40" r="1.3" fill="#d81c1c" stroke="#6a0808" stroke-width="0.45"/>
<circle cx="224.30" cy="258.20" r="1.3" fill="#d81c1c" stroke="#6a0808" stroke-width="0.45"/>
<circle cx="223.00" cy="270.40" r="1.3" fill="#d81c1c" stroke="#6a0808" stroke-width="0.45"/>
<circle cx="223.00" cy="285.60" r="1.3" fill="#d81c1c" stroke="#6a0808" stroke-width="0.45"/>
<rect x="231.20" y="255.00" width="4.30" height="15.40" fill="#ffffff" stroke="#8e8e8e" stroke-width="0.9"/>
<line x1="231.2" y1="259" x2="235.5" y2="259" stroke="#6a6a6a" stroke-width="0.8"/>
<circle cx="233.50" cy="254.10" r="1.3" fill="#000000" stroke="#000000" stroke-width="0.45"/>
<circle cx="234.80" cy="255.00" r="1.3" fill="#000000" stroke="#000000" stroke-width="0.45"/>
<circle cx="233.50" cy="263.90" r="1.3" fill="#000000" stroke="#000000" stroke-width="0.45"/>
<circle cx="233.50" cy="274.70" r="1.3" fill="#000000" stroke="#000000" stroke-width="0.45"/>
<rect x="237.70" y="236.50" width="4.60" height="25.30" fill="#ffffff" stroke="#8e8e8e" stroke-width="0.9"/>
<line x1="237.7" y1="253.1" x2="242.3" y2="253.1" stroke="#6a6a6a" stroke-width="0.8"/>
<circle cx="240.00" cy="230.50" r="1.3" fill="#1c1cd0" stroke="#000070" stroke-width="0.45"/>
<circle cx="240.00" cy="234.80" r="1.3" fill="#1c1cd0" stroke="#000070" stroke-width="0.45"/>
<circle cx="240.00" cy="246.90" r="1.3" fill="#1c1cd0" stroke="#000070" stroke-width="0.45"/>
<circle cx="240.00" cy="258.90" r="1.3" fill="#1c1cd0" stroke="#000070" stroke-width="0.45"/>
<circle cx="240.00" cy="262.50" r="1.3" fill="#1c1cd0" stroke="#000070" stroke-width="0.45"/>
<circle cx="240.00" cy="274.00" r="1.3" fill="#1c1cd0" stroke="#000070" stroke-width="0.45"/>
<rect x="244.60" y="238.70" width="4.90" height="29.60" fill="#ffffff" stroke="#8e8e8e" stroke-width="0.9"/>
<line x1="244.6" y1="247.3" x2="249.5" y2="247.3" stroke="#6a6a6a" stroke-width="0.8"/>
<circle cx="247.00" cy="217.80" r="1.3" fill="#d81c1c" stroke="#6a0808" stroke-width="0.45"/>
<circle cx="247.00" cy="236.50" r="1.3" fill="#d81c1c" stroke="#6a0808" stroke-width="0.45"/>
<circle cx="247.00" cy="240.80" r="1.3" fill="#d81c1c" stroke="#6a0808" stroke-width="0.45"/>
<circle cx="247.00" cy="252.10" r="1.3" fill="#d81c1c" stroke="#6a0808" stroke-width="0.45"/>
<circle cx="247.00" cy="266.80" r="1.3" fill="#d81c1c" stroke="#6a0808" stroke-width="0.45"/>
<circle cx="247.00" cy="271.40" r="1.3" fill="#d81c1c" stroke="#6a0808" stroke-width="0.45"/>
<rect x="314.40" y="99.10" width="4.60" height="7.20" fill="#ffffff" stroke="#8e8e8e" stroke-width="0.9"/>
<line x1="314.4" y1="102" x2="319" y2="102" stroke="#6a6a6a" stroke-width="0.8"/>
<circle cx="316.80" cy="97.70" r="1.3" fill="#000000" stroke="#000000" stroke-width="0.45"/>
<circle cx="318.10" cy="98.80" r="1.3" fill="#000000" stroke="#000000" stroke-width="0.45"/>
<circle cx="316.80" cy="111.40" r="1.3" fill="#000000" stroke="#000000" stroke-width="0.45"/>
<rect x="320.50" y="86.20" width="5.20" height="6.40" fill="#ffffff" stroke="#8e8e8e" stroke-width="0.9"/>
<line x1="320.5" y1="89" x2="325.7" y2="89" stroke="#6a6a6a" stroke-width="0.8"/>
<circle cx="323.00" cy="85.40" r="1.3" fill="#1c1cd0" stroke="#000070" stroke-width="0.45"/>
<circle cx="324.30" cy="86.90" r="1.3" fill="#1c1cd0" stroke="#000070" stroke-width="0.45"/>
<circle cx="323.00" cy="90.20" r="1.3" fill="#1c1cd0" stroke="#000070" stroke-width="0.45"/>
<circle cx="323.00" cy="99.90" r="1.3" fill="#1c1cd0" stroke="#000070" stroke-width="0.45"/>
<rect x="327.40" y="86.20" width="4.60" height="7.90" fill="#ffffff" stroke="#8e8e8e" stroke-width="0.9"/>
<line x1="327.4" y1="90" x2="332" y2="90" stroke="#6a6a6a" stroke-width="0.8"/>
<circle cx="330.00" cy="81.10" r="1.3" fill="#d81c1c" stroke="#6a0808" stroke-width="0.45"/>
<circle cx="331.30" cy="83.30" r="1.3" fill="#d81c1c" stroke="#6a0808" stroke-width="0.45"/>
<circle cx="330.00" cy="89.80" r="1.3" fill="#d81c1c" stroke="#6a0808" stroke-width="0.45"/>
<circle cx="330.00" cy="96.30" r="1.3" fill="#d81c1c" stroke="#6a0808" stroke-width="0.45"/>
<circle cx="330.00" cy="99.10" r="1.3" fill="#d81c1c" stroke="#6a0808" stroke-width="0.45"/>
<rect x="338.20" y="89.00" width="4.80" height="10.90" fill="#ffffff" stroke="#8e8e8e" stroke-width="0.9"/>
<line x1="338.2" y1="96.5" x2="343" y2="96.5" stroke="#6a6a6a" stroke-width="0.8"/>
<circle cx="340.50" cy="81.80" r="1.3" fill="#000000" stroke="#000000" stroke-width="0.45"/>
<circle cx="340.50" cy="96.30" r="1.3" fill="#000000" stroke="#000000" stroke-width="0.45"/>
<circle cx="341.80" cy="97.70" r="1.3" fill="#000000" stroke="#000000" stroke-width="0.45"/>
<circle cx="340.20" cy="99.90" r="1.3" fill="#000000" stroke="#000000" stroke-width="0.45"/>
<rect x="344.70" y="78.20" width="4.60" height="15.20" fill="#ffffff" stroke="#8e8e8e" stroke-width="0.9"/>
<line x1="344.7" y1="90" x2="349.3" y2="90" stroke="#6a6a6a" stroke-width="0.8"/>
<circle cx="347.00" cy="71.70" r="1.3" fill="#1c1cd0" stroke="#000070" stroke-width="0.45"/>
<circle cx="347.00" cy="76.80" r="1.3" fill="#1c1cd0" stroke="#000070" stroke-width="0.45"/>
<circle cx="347.00" cy="89.80" r="1.3" fill="#1c1cd0" stroke="#000070" stroke-width="0.45"/>
<circle cx="348.30" cy="91.90" r="1.3" fill="#1c1cd0" stroke="#000070" stroke-width="0.45"/>
<circle cx="347.00" cy="94.80" r="1.3" fill="#1c1cd0" stroke="#000070" stroke-width="0.45"/>
<circle cx="347.00" cy="98.40" r="1.3" fill="#1c1cd0" stroke="#000070" stroke-width="0.45"/>
<rect x="351.90" y="78.20" width="5.10" height="9.40" fill="#ffffff" stroke="#8e8e8e" stroke-width="0.9"/>
<line x1="351.9" y1="82" x2="357" y2="82" stroke="#6a6a6a" stroke-width="0.8"/>
<circle cx="354.50" cy="73.90" r="1.3" fill="#d81c1c" stroke="#6a0808" stroke-width="0.45"/>
<circle cx="355.80" cy="75.30" r="1.3" fill="#d81c1c" stroke="#6a0808" stroke-width="0.45"/>
<circle cx="354.50" cy="81.80" r="1.3" fill="#d81c1c" stroke="#6a0808" stroke-width="0.45"/>
<circle cx="354.50" cy="86.20" r="1.3" fill="#d81c1c" stroke="#6a0808" stroke-width="0.45"/>
<circle cx="355.80" cy="87.60" r="1.3" fill="#d81c1c" stroke="#6a0808" stroke-width="0.45"/>
<rect x="361.60" y="86.90" width="4.80" height="5.70" fill="#ffffff" stroke="#8e8e8e" stroke-width="0.9"/>
<line x1="361.6" y1="87" x2="366.4" y2="87" stroke="#6a6a6a" stroke-width="0.8"/>
<circle cx="364.00" cy="81.10" r="1.3" fill="#000000" stroke="#000000" stroke-width="0.45"/>
<circle cx="364.00" cy="85.40" r="1.3" fill="#000000" stroke="#000000" stroke-width="0.45"/>
<circle cx="365.30" cy="86.90" r="1.3" fill="#000000" stroke="#000000" stroke-width="0.45"/>
<circle cx="364.00" cy="97.70" r="1.3" fill="#000000" stroke="#000000" stroke-width="0.45"/>
<rect x="368.80" y="83.30" width="4.80" height="11.50" fill="#ffffff" stroke="#8e8e8e" stroke-width="0.9"/>
<line x1="368.8" y1="85" x2="373.6" y2="85" stroke="#6a6a6a" stroke-width="0.8"/>
<circle cx="371.00" cy="68.60" r="1.3" fill="#1c1cd0" stroke="#000070" stroke-width="0.45"/>
<circle cx="371.00" cy="81.80" r="1.3" fill="#1c1cd0" stroke="#000070" stroke-width="0.45"/>
<circle cx="372.30" cy="84.00" r="1.3" fill="#1c1cd0" stroke="#000070" stroke-width="0.45"/>
<circle cx="370.70" cy="85.90" r="1.3" fill="#1c1cd0" stroke="#000070" stroke-width="0.45"/>
<circle cx="371.00" cy="94.80" r="1.3" fill="#1c1cd0" stroke="#000070" stroke-width="0.45"/>
<rect x="375.30" y="66.00" width="5.10" height="21.60" fill="#ffffff" stroke="#8e8e8e" stroke-width="0.9"/>
<line x1="375.3" y1="75.5" x2="380.4" y2="75.5" stroke="#6a6a6a" stroke-width="0.8"/>
<circle cx="377.80" cy="58.00" r="1.3" fill="#d81c1c" stroke="#6a0808" stroke-width="0.45"/>
<circle cx="377.80" cy="65.20" r="1.3" fill="#d81c1c" stroke="#6a0808" stroke-width="0.45"/>
<circle cx="377.80" cy="74.60" r="1.3" fill="#d81c1c" stroke="#6a0808" stroke-width="0.45"/>
<circle cx="379.10" cy="76.10" r="1.3" fill="#d81c1c" stroke="#6a0808" stroke-width="0.45"/>
<circle cx="377.80" cy="86.90" r="1.3" fill="#d81c1c" stroke="#6a0808" stroke-width="0.45"/>
<circle cx="377.80" cy="91.20" r="1.3" fill="#d81c1c" stroke="#6a0808" stroke-width="0.45"/>
<rect x="385.70" y="69.60" width="4.80" height="11.90" fill="#ffffff" stroke="#8e8e8e" stroke-width="0.9"/>
<line x1="385.7" y1="72" x2="390.5" y2="72" stroke="#6a6a6a" stroke-width="0.8"/>
<circle cx="388.00" cy="65.20" r="1.3" fill="#000000" stroke="#000000" stroke-width="0.45"/>
<circle cx="388.00" cy="69.60" r="1.3" fill="#000000" stroke="#000000" stroke-width="0.45"/>
<circle cx="388.00" cy="72.50" r="1.3" fill="#000000" stroke="#000000" stroke-width="0.45"/>
<circle cx="388.00" cy="91.20" r="1.3" fill="#000000" stroke="#000000" stroke-width="0.45"/>
<rect x="392.60" y="75.30" width="4.60" height="8.00" fill="#ffffff" stroke="#8e8e8e" stroke-width="0.9"/>
<line x1="392.6" y1="81.5" x2="397.2" y2="81.5" stroke="#6a6a6a" stroke-width="0.8"/>
<circle cx="395.00" cy="66.70" r="1.3" fill="#1c1cd0" stroke="#000070" stroke-width="0.45"/>
<circle cx="395.00" cy="73.90" r="1.3" fill="#1c1cd0" stroke="#000070" stroke-width="0.45"/>
<circle cx="395.00" cy="81.10" r="1.3" fill="#1c1cd0" stroke="#000070" stroke-width="0.45"/>
<circle cx="396.30" cy="82.10" r="1.3" fill="#1c1cd0" stroke="#000070" stroke-width="0.45"/>
<circle cx="395.00" cy="94.80" r="1.3" fill="#1c1cd0" stroke="#000070" stroke-width="0.45"/>
<rect x="398.80" y="72.50" width="5.10" height="20.10" fill="#ffffff" stroke="#8e8e8e" stroke-width="0.9"/>
<line x1="398.8" y1="73" x2="403.9" y2="73" stroke="#6a6a6a" stroke-width="0.8"/>
<circle cx="401.30" cy="53.70" r="1.3" fill="#d81c1c" stroke="#6a0808" stroke-width="0.45"/>
<circle cx="401.30" cy="68.80" r="1.3" fill="#d81c1c" stroke="#6a0808" stroke-width="0.45"/>
<circle cx="401.30" cy="72.00" r="1.3" fill="#d81c1c" stroke="#6a0808" stroke-width="0.45"/>
<circle cx="402.60" cy="73.20" r="1.3" fill="#d81c1c" stroke="#6a0808" stroke-width="0.45"/>
<circle cx="401.30" cy="92.20" r="1.3" fill="#d81c1c" stroke="#6a0808" stroke-width="0.45"/>
<circle cx="401.30" cy="100.60" r="1.3" fill="#d81c1c" stroke="#6a0808" stroke-width="0.45"/>
<rect x="409.60" y="81.80" width="4.90" height="12.30" fill="#ffffff" stroke="#8e8e8e" stroke-width="0.9"/>
<line x1="409.6" y1="91" x2="414.5" y2="91" stroke="#6a6a6a" stroke-width="0.8"/>
<circle cx="412.00" cy="74.30" r="1.3" fill="#000000" stroke="#000000" stroke-width="0.45"/>
<circle cx="412.00" cy="87.30" r="1.3" fill="#000000" stroke="#000000" stroke-width="0.45"/>
<circle cx="412.00" cy="91.20" r="1.3" fill="#000000" stroke="#000000" stroke-width="0.45"/>
<circle cx="412.00" cy="94.10" r="1.3" fill="#000000" stroke="#000000" stroke-width="0.45"/>
<circle cx="413.30" cy="95.50" r="1.3" fill="#000000" stroke="#000000" stroke-width="0.45"/>
<rect x="416.40" y="73.20" width="4.80" height="15.80" fill="#ffffff" stroke="#8e8e8e" stroke-width="0.9"/>
<line x1="416.4" y1="84.7" x2="421.2" y2="84.7" stroke="#6a6a6a" stroke-width="0.8"/>
<circle cx="418.70" cy="70.30" r="1.3" fill="#1c1cd0" stroke="#000070" stroke-width="0.45"/>
<circle cx="420.00" cy="71.40" r="1.3" fill="#1c1cd0" stroke="#000070" stroke-width="0.45"/>
<circle cx="418.70" cy="84.70" r="1.3" fill="#1c1cd0" stroke="#000070" stroke-width="0.45"/>
<circle cx="418.70" cy="88.30" r="1.3" fill="#1c1cd0" stroke="#000070" stroke-width="0.45"/>
<circle cx="420.00" cy="89.00" r="1.3" fill="#1c1cd0" stroke="#000070" stroke-width="0.45"/>
<rect x="422.90" y="72.50" width="5.10" height="4.70" fill="#ffffff" stroke="#8e8e8e" stroke-width="0.9"/>
<line x1="422.9" y1="77.2" x2="428" y2="77.2" stroke="#6a6a6a" stroke-width="0.8"/>
<circle cx="425.50" cy="67.70" r="1.3" fill="#d81c1c" stroke="#6a0808" stroke-width="0.45"/>
<circle cx="426.80" cy="70.30" r="1.3" fill="#d81c1c" stroke="#6a0808" stroke-width="0.45"/>
<circle cx="425.50" cy="77.20" r="1.3" fill="#d81c1c" stroke="#6a0808" stroke-width="0.45"/>
<circle cx="426.80" cy="78.70" r="1.3" fill="#d81c1c" stroke="#6a0808" stroke-width="0.45"/>
<circle cx="425.20" cy="81.10" r="1.3" fill="#d81c1c" stroke="#6a0808" stroke-width="0.45"/>
<rect x="315.10" y="180.60" width="4.80" height="14.90" fill="#ffffff" stroke="#8e8e8e" stroke-width="0.9"/>
<line x1="315.1" y1="188" x2="319.9" y2="188" stroke="#6a6a6a" stroke-width="0.8"/>
<circle cx="317.50" cy="178.80" r="1.3" fill="#000000" stroke="#000000" stroke-width="0.45"/>
<circle cx="317.50" cy="185.40" r="1.3" fill="#000000" stroke="#000000" stroke-width="0.45"/>
<circle cx="317.50" cy="189.70" r="1.3" fill="#000000" stroke="#000000" stroke-width="0.45"/>
<circle cx="317.50" cy="199.40" r="1.3" fill="#000000" stroke="#000000" stroke-width="0.45"/>
<rect x="321.60" y="172.40" width="5.10" height="5.40" fill="#ffffff" stroke="#8e8e8e" stroke-width="0.9"/>
<line x1="321.6" y1="173" x2="326.7" y2="173" stroke="#6a6a6a" stroke-width="0.8"/>
<circle cx="324.00" cy="164.80" r="1.3" fill="#1c1cd0" stroke="#000070" stroke-width="0.45"/>
<circle cx="324.00" cy="169.80" r="1.3" fill="#1c1cd0" stroke="#000070" stroke-width="0.45"/>
<circle cx="325.30" cy="171.00" r="1.3" fill="#1c1cd0" stroke="#000070" stroke-width="0.45"/>
<circle cx="324.00" cy="174.90" r="1.3" fill="#1c1cd0" stroke="#000070" stroke-width="0.45"/>
<circle cx="324.00" cy="178.80" r="1.3" fill="#1c1cd0" stroke="#000070" stroke-width="0.45"/>
<rect x="328.80" y="173.90" width="4.60" height="3.90" fill="#ffffff" stroke="#8e8e8e" stroke-width="0.9"/>
<line x1="328.8" y1="175" x2="333.4" y2="175" stroke="#6a6a6a" stroke-width="0.8"/>
<circle cx="331.00" cy="162.90" r="1.3" fill="#d81c1c" stroke="#6a0808" stroke-width="0.45"/>
<circle cx="331.00" cy="173.00" r="1.3" fill="#d81c1c" stroke="#6a0808" stroke-width="0.45"/>
<circle cx="332.30" cy="174.90" r="1.3" fill="#d81c1c" stroke="#6a0808" stroke-width="0.45"/>
<circle cx="331.00" cy="179.20" r="1.3" fill="#d81c1c" stroke="#6a0808" stroke-width="0.45"/>
<rect x="339.40" y="166.00" width="4.90" height="14.50" fill="#ffffff" stroke="#8e8e8e" stroke-width="0.9"/>
<circle cx="341.80" cy="155.40" r="1.3" fill="#000000" stroke="#000000" stroke-width="0.45"/>
<circle cx="341.80" cy="179.60" r="1.3" fill="#000000" stroke="#000000" stroke-width="0.45"/>
<circle cx="343.10" cy="181.20" r="1.3" fill="#000000" stroke="#000000" stroke-width="0.45"/>
<rect x="346.40" y="164.10" width="4.40" height="15.80" fill="#ffffff" stroke="#8e8e8e" stroke-width="0.9"/>
<line x1="346.4" y1="176" x2="350.8" y2="176" stroke="#6a6a6a" stroke-width="0.8"/>
<circle cx="348.60" cy="151.10" r="1.3" fill="#1c1cd0" stroke="#000070" stroke-width="0.45"/>
<circle cx="348.60" cy="162.60" r="1.3" fill="#1c1cd0" stroke="#000070" stroke-width="0.45"/>
<circle cx="348.60" cy="172.70" r="1.3" fill="#1c1cd0" stroke="#000070" stroke-width="0.45"/>
<circle cx="348.60" cy="179.20" r="1.3" fill="#1c1cd0" stroke="#000070" stroke-width="0.45"/>
<circle cx="349.90" cy="181.40" r="1.3" fill="#1c1cd0" stroke="#000070" stroke-width="0.45"/>
<circle cx="348.30" cy="182.50" r="1.3" fill="#1c1cd0" stroke="#000070" stroke-width="0.45"/>
<path d="M354.20,155.40H357.70V167.60H354.20" fill="none" stroke="#8e8e8e" stroke-width="0.9"/>
<circle cx="355.30" cy="148.20" r="1.3" fill="#d81c1c" stroke="#6a0808" stroke-width="0.45"/>
<circle cx="355.30" cy="154.30" r="1.3" fill="#d81c1c" stroke="#6a0808" stroke-width="0.45"/>
<circle cx="355.30" cy="166.50" r="1.3" fill="#d81c1c" stroke="#6a0808" stroke-width="0.45"/>
<circle cx="356.60" cy="168.00" r="1.3" fill="#d81c1c" stroke="#6a0808" stroke-width="0.45"/>
<circle cx="355.30" cy="179.20" r="1.3" fill="#d81c1c" stroke="#6a0808" stroke-width="0.45"/>
<rect x="363.50" y="166.90" width="4.90" height="14.80" fill="#ffffff" stroke="#8e8e8e" stroke-width="0.9"/>
<line x1="363.5" y1="172" x2="368.4" y2="172" stroke="#6a6a6a" stroke-width="0.8"/>
<circle cx="366.00" cy="165.20" r="1.3" fill="#000000" stroke="#000000" stroke-width="0.45"/>
<circle cx="367.30" cy="166.70" r="1.3" fill="#000000" stroke="#000000" stroke-width="0.45"/>
<circle cx="366.00" cy="173.90" r="1.3" fill="#000000" stroke="#000000" stroke-width="0.45"/>
<circle cx="366.00" cy="189.30" r="1.3" fill="#000000" stroke="#000000" stroke-width="0.45"/>
<rect x="370.30" y="173.00" width="4.70" height="11.50" fill="#ffffff" stroke="#8e8e8e" stroke-width="0.9"/>
<line x1="370.3" y1="177" x2="375" y2="177" stroke="#6a6a6a" stroke-width="0.8"/>
<circle cx="372.60" cy="153.20" r="1.3" fill="#1c1cd0" stroke="#000070" stroke-width="0.45"/>
<circle cx="372.60" cy="171.30" r="1.3" fill="#1c1cd0" stroke="#000070" stroke-width="0.45"/>
<circle cx="372.60" cy="183.50" r="1.3" fill="#1c1cd0" stroke="#000070" stroke-width="0.45"/>
<circle cx="373.90" cy="184.50" r="1.3" fill="#1c1cd0" stroke="#000070" stroke-width="0.45"/>
<rect x="377.00" y="148.20" width="4.80" height="21.60" fill="#ffffff" stroke="#8e8e8e" stroke-width="0.9"/>
<line x1="377" y1="157" x2="381.8" y2="157" stroke="#6a6a6a" stroke-width="0.8"/>
<circle cx="379.40" cy="140.70" r="1.3" fill="#d81c1c" stroke="#6a0808" stroke-width="0.45"/>
<circle cx="379.40" cy="146.00" r="1.3" fill="#d81c1c" stroke="#6a0808" stroke-width="0.45"/>
<circle cx="379.40" cy="154.70" r="1.3" fill="#d81c1c" stroke="#6a0808" stroke-width="0.45"/>
<circle cx="379.40" cy="159.70" r="1.3" fill="#d81c1c" stroke="#6a0808" stroke-width="0.45"/>
<circle cx="379.40" cy="169.10" r="1.3" fill="#d81c1c" stroke="#6a0808" stroke-width="0.45"/>
<circle cx="380.70" cy="171.00" r="1.3" fill="#d81c1c" stroke="#6a0808" stroke-width="0.45"/>
<rect x="387.10" y="149.30" width="5.20" height="16.20" fill="#ffffff" stroke="#8e8e8e" stroke-width="0.9"/>
<line x1="387.1" y1="156.8" x2="392.3" y2="156.8" stroke="#6a6a6a" stroke-width="0.8"/>
<circle cx="389.70" cy="144.60" r="1.3" fill="#000000" stroke="#000000" stroke-width="0.45"/>
<circle cx="389.70" cy="150.80" r="1.3" fill="#000000" stroke="#000000" stroke-width="0.45"/>
<circle cx="389.70" cy="161.90" r="1.3" fill="#000000" stroke="#000000" stroke-width="0.45"/>
<circle cx="389.70" cy="168.10" r="1.3" fill="#000000" stroke="#000000" stroke-width="0.45"/>
<rect x="394.30" y="159.00" width="4.80" height="10.10" fill="#ffffff" stroke="#8e8e8e" stroke-width="0.9"/>
<line x1="394.3" y1="162" x2="399.1" y2="162" stroke="#6a6a6a" stroke-width="0.8"/>
<circle cx="396.70" cy="155.70" r="1.3" fill="#1c1cd0" stroke="#000070" stroke-width="0.45"/>
<circle cx="398.00" cy="157.60" r="1.3" fill="#1c1cd0" stroke="#000070" stroke-width="0.45"/>
<circle cx="396.40" cy="159.40" r="1.3" fill="#1c1cd0" stroke="#000070" stroke-width="0.45"/>
<circle cx="396.70" cy="168.70" r="1.3" fill="#1c1cd0" stroke="#000070" stroke-width="0.45"/>
<circle cx="396.70" cy="182.50" r="1.3" fill="#1c1cd0" stroke="#000070" stroke-width="0.45"/>
<rect x="401.00" y="146.00" width="4.60" height="36.50" fill="#ffffff" stroke="#8e8e8e" stroke-width="0.9"/>
<line x1="401" y1="158" x2="405.6" y2="158" stroke="#6a6a6a" stroke-width="0.8"/>
<circle cx="403.30" cy="134.10" r="1.3" fill="#d81c1c" stroke="#6a0808" stroke-width="0.45"/>
<circle cx="403.30" cy="143.90" r="1.3" fill="#d81c1c" stroke="#6a0808" stroke-width="0.45"/>
<circle cx="403.30" cy="151.10" r="1.3" fill="#d81c1c" stroke="#6a0808" stroke-width="0.45"/>
<circle cx="403.30" cy="162.90" r="1.3" fill="#d81c1c" stroke="#6a0808" stroke-width="0.45"/>
<circle cx="403.30" cy="181.70" r="1.3" fill="#d81c1c" stroke="#6a0808" stroke-width="0.45"/>
<circle cx="403.30" cy="187.10" r="1.3" fill="#d81c1c" stroke="#6a0808" stroke-width="0.45"/>
<rect x="411.40" y="162.60" width="5.00" height="7.90" fill="#ffffff" stroke="#8e8e8e" stroke-width="0.9"/>
<line x1="411.4" y1="169.4" x2="416.4" y2="169.4" stroke="#6a6a6a" stroke-width="0.8"/>
<circle cx="413.90" cy="155.40" r="1.3" fill="#000000" stroke="#000000" stroke-width="0.45"/>
<circle cx="413.90" cy="169.10" r="1.3" fill="#000000" stroke="#000000" stroke-width="0.45"/>
<circle cx="415.20" cy="169.80" r="1.3" fill="#000000" stroke="#000000" stroke-width="0.45"/>
<circle cx="413.90" cy="173.40" r="1.3" fill="#000000" stroke="#000000" stroke-width="0.45"/>
<rect x="418.30" y="161.50" width="4.60" height="9.80" fill="#ffffff" stroke="#8e8e8e" stroke-width="0.9"/>
<line x1="418.3" y1="166" x2="422.9" y2="166" stroke="#6a6a6a" stroke-width="0.8"/>
<circle cx="420.60" cy="151.10" r="1.3" fill="#1c1cd0" stroke="#000070" stroke-width="0.45"/>
<circle cx="420.60" cy="159.70" r="1.3" fill="#1c1cd0" stroke="#000070" stroke-width="0.45"/>
<circle cx="420.60" cy="163.30" r="1.3" fill="#1c1cd0" stroke="#000070" stroke-width="0.45"/>
<circle cx="420.60" cy="166.90" r="1.3" fill="#1c1cd0" stroke="#000070" stroke-width="0.45"/>
<circle cx="420.60" cy="171.00" r="1.3" fill="#1c1cd0" stroke="#000070" stroke-width="0.45"/>
<circle cx="421.90" cy="173.00" r="1.3" fill="#1c1cd0" stroke="#000070" stroke-width="0.45"/>
<rect x="425.10" y="154.70" width="5.00" height="9.10" fill="#ffffff" stroke="#8e8e8e" stroke-width="0.9"/>
<line x1="425.1" y1="158" x2="430.1" y2="158" stroke="#6a6a6a" stroke-width="0.8"/>
<circle cx="427.60" cy="148.90" r="1.3" fill="#d81c1c" stroke="#6a0808" stroke-width="0.45"/>
<circle cx="427.60" cy="154.00" r="1.3" fill="#d81c1c" stroke="#6a0808" stroke-width="0.45"/>
<circle cx="428.90" cy="156.10" r="1.3" fill="#d81c1c" stroke="#6a0808" stroke-width="0.45"/>
<circle cx="427.60" cy="159.00" r="1.3" fill="#d81c1c" stroke="#6a0808" stroke-width="0.45"/>
<circle cx="427.60" cy="164.80" r="1.3" fill="#d81c1c" stroke="#6a0808" stroke-width="0.45"/>
<circle cx="427.60" cy="168.70" r="1.3" fill="#d81c1c" stroke="#6a0808" stroke-width="0.45"/>
<path d="M315.70,259.20H319.20V271.10H315.70" fill="none" stroke="#8e8e8e" stroke-width="0.9"/>
<circle cx="318.00" cy="257.60" r="1.3" fill="#000000" stroke="#000000" stroke-width="0.45"/>
<circle cx="319.30" cy="258.80" r="1.3" fill="#000000" stroke="#000000" stroke-width="0.45"/>
<circle cx="318.00" cy="264.50" r="1.3" fill="#000000" stroke="#000000" stroke-width="0.45"/>
<circle cx="318.00" cy="277.80" r="1.3" fill="#000000" stroke="#000000" stroke-width="0.45"/>
<rect x="322.30" y="254.70" width="4.80" height="10.10" fill="#ffffff" stroke="#8e8e8e" stroke-width="0.9"/>
<line x1="322.3" y1="258" x2="327.1" y2="258" stroke="#6a6a6a" stroke-width="0.8"/>
<circle cx="324.70" cy="251.50" r="1.3" fill="#1c1cd0" stroke="#000070" stroke-width="0.45"/>
<circle cx="326.00" cy="253.30" r="1.3" fill="#1c1cd0" stroke="#000070" stroke-width="0.45"/>
<circle cx="324.70" cy="258.30" r="1.3" fill="#1c1cd0" stroke="#000070" stroke-width="0.45"/>
<circle cx="324.70" cy="267.70" r="1.3" fill="#1c1cd0" stroke="#000070" stroke-width="0.45"/>
<rect x="328.80" y="258.30" width="4.60" height="9.40" fill="#ffffff" stroke="#8e8e8e" stroke-width="0.9"/>
<line x1="328.8" y1="261" x2="333.4" y2="261" stroke="#6a6a6a" stroke-width="0.8"/>
<circle cx="331.00" cy="256.40" r="1.3" fill="#d81c1c" stroke="#6a0808" stroke-width="0.45"/>
<circle cx="332.30" cy="257.60" r="1.3" fill="#d81c1c" stroke="#6a0808" stroke-width="0.45"/>
<circle cx="331.00" cy="261.90" r="1.3" fill="#d81c1c" stroke="#6a0808" stroke-width="0.45"/>
<circle cx="331.00" cy="267.00" r="1.3" fill="#d81c1c" stroke="#6a0808" stroke-width="0.45"/>
<circle cx="331.00" cy="269.90" r="1.3" fill="#d81c1c" stroke="#6a0808" stroke-width="0.45"/>
<path d="M340.10,243.20H343.60V263.20H340.10" fill="none" stroke="#8e8e8e" stroke-width="0.9"/>
<circle cx="341.50" cy="235.20" r="1.3" fill="#000000" stroke="#000000" stroke-width="0.45"/>
<circle cx="341.50" cy="253.30" r="1.3" fill="#000000" stroke="#000000" stroke-width="0.45"/>
<circle cx="341.50" cy="259.00" r="1.3" fill="#000000" stroke="#000000" stroke-width="0.45"/>
<circle cx="341.50" cy="270.60" r="1.3" fill="#000000" stroke="#000000" stroke-width="0.45"/>
<rect x="346.40" y="248.90" width="4.40" height="19.50" fill="#ffffff" stroke="#8e8e8e" stroke-width="0.9"/>
<line x1="346.4" y1="264" x2="350.8" y2="264" stroke="#6a6a6a" stroke-width="0.8"/>
<circle cx="348.60" cy="246.80" r="1.3" fill="#1c1cd0" stroke="#000070" stroke-width="0.45"/>
<circle cx="349.90" cy="247.80" r="1.3" fill="#1c1cd0" stroke="#000070" stroke-width="0.45"/>
<circle cx="348.60" cy="261.60" r="1.3" fill="#1c1cd0" stroke="#000070" stroke-width="0.45"/>
<circle cx="348.60" cy="267.00" r="1.3" fill="#1c1cd0" stroke="#000070" stroke-width="0.45"/>
<circle cx="348.60" cy="270.60" r="1.3" fill="#1c1cd0" stroke="#000070" stroke-width="0.45"/>
<circle cx="348.60" cy="276.30" r="1.3" fill="#1c1cd0" stroke="#000070" stroke-width="0.45"/>
<rect x="352.60" y="242.90" width="5.10" height="16.90" fill="#ffffff" stroke="#8e8e8e" stroke-width="0.9"/>
<line x1="352.6" y1="254" x2="357.7" y2="254" stroke="#6a6a6a" stroke-width="0.8"/>
<circle cx="355.00" cy="236.70" r="1.3" fill="#d81c1c" stroke="#6a0808" stroke-width="0.45"/>
<circle cx="355.00" cy="241.00" r="1.3" fill="#d81c1c" stroke="#6a0808" stroke-width="0.45"/>
<circle cx="355.00" cy="251.10" r="1.3" fill="#d81c1c" stroke="#6a0808" stroke-width="0.45"/>
<circle cx="355.00" cy="256.90" r="1.3" fill="#d81c1c" stroke="#6a0808" stroke-width="0.45"/>
<circle cx="356.30" cy="258.30" r="1.3" fill="#d81c1c" stroke="#6a0808" stroke-width="0.45"/>
<circle cx="355.00" cy="268.40" r="1.3" fill="#d81c1c" stroke="#6a0808" stroke-width="0.45"/>
<rect x="363.00" y="244.60" width="4.80" height="15.60" fill="#ffffff" stroke="#8e8e8e" stroke-width="0.9"/>
<line x1="363" y1="252.5" x2="367.8" y2="252.5" stroke="#6a6a6a" stroke-width="0.8"/>
<circle cx="365.40" cy="240.30" r="1.3" fill="#000000" stroke="#000000" stroke-width="0.45"/>
<circle cx="365.40" cy="245.30" r="1.3" fill="#000000" stroke="#000000" stroke-width="0.45"/>
<circle cx="365.40" cy="256.90" r="1.3" fill="#000000" stroke="#000000" stroke-width="0.45"/>
<circle cx="365.40" cy="260.50" r="1.3" fill="#000000" stroke="#000000" stroke-width="0.45"/>
<circle cx="372.10" cy="242.90" r="1.3" fill="#1c1cd0" stroke="#000070" stroke-width="0.45"/>
<circle cx="372.10" cy="259.80" r="1.3" fill="#1c1cd0" stroke="#000070" stroke-width="0.45"/>
<circle cx="372.10" cy="264.80" r="1.3" fill="#1c1cd0" stroke="#000070" stroke-width="0.45"/>
<circle cx="372.10" cy="270.30" r="1.3" fill="#1c1cd0" stroke="#000070" stroke-width="0.45"/>
<circle cx="373.40" cy="270.80" r="1.3" fill="#1c1cd0" stroke="#000070" stroke-width="0.45"/>
<rect x="376.50" y="231.90" width="5.30" height="30.70" fill="#ffffff" stroke="#8e8e8e" stroke-width="0.9"/>
<line x1="376.5" y1="247.2" x2="381.8" y2="247.2" stroke="#6a6a6a" stroke-width="0.8"/>
<circle cx="379.00" cy="229.50" r="1.3" fill="#d81c1c" stroke="#6a0808" stroke-width="0.45"/>
<circle cx="379.00" cy="242.90" r="1.3" fill="#d81c1c" stroke="#6a0808" stroke-width="0.45"/>
<circle cx="379.00" cy="249.20" r="1.3" fill="#d81c1c" stroke="#6a0808" stroke-width="0.45"/>
<circle cx="379.00" cy="261.90" r="1.3" fill="#d81c1c" stroke="#6a0808" stroke-width="0.45"/>
<rect x="386.80" y="229.50" width="5.10" height="25.90" fill="#ffffff" stroke="#8e8e8e" stroke-width="0.9"/>
<line x1="386.8" y1="240" x2="391.9" y2="240" stroke="#6a6a6a" stroke-width="0.8"/>
<circle cx="389.30" cy="224.40" r="1.3" fill="#000000" stroke="#000000" stroke-width="0.45"/>
<circle cx="389.30" cy="230.90" r="1.3" fill="#000000" stroke="#000000" stroke-width="0.45"/>
<circle cx="389.30" cy="250.70" r="1.3" fill="#000000" stroke="#000000" stroke-width="0.45"/>
<circle cx="389.30" cy="258.30" r="1.3" fill="#000000" stroke="#000000" stroke-width="0.45"/>
<rect x="393.80" y="240.30" width="4.90" height="31.70" fill="#ffffff" stroke="#8e8e8e" stroke-width="0.9"/>
<line x1="393.8" y1="248" x2="398.7" y2="248" stroke="#6a6a6a" stroke-width="0.8"/>
<circle cx="396.20" cy="234.20" r="1.3" fill="#1c1cd0" stroke="#000070" stroke-width="0.45"/>
<circle cx="396.20" cy="238.60" r="1.3" fill="#1c1cd0" stroke="#000070" stroke-width="0.45"/>
<circle cx="396.20" cy="245.30" r="1.3" fill="#1c1cd0" stroke="#000070" stroke-width="0.45"/>
<circle cx="396.20" cy="248.20" r="1.3" fill="#1c1cd0" stroke="#000070" stroke-width="0.45"/>
<circle cx="396.20" cy="270.60" r="1.3" fill="#1c1cd0" stroke="#000070" stroke-width="0.45"/>
<circle cx="397.50" cy="272.70" r="1.3" fill="#1c1cd0" stroke="#000070" stroke-width="0.45"/>
<rect x="400.50" y="242.90" width="5.10" height="28.80" fill="#ffffff" stroke="#8e8e8e" stroke-width="0.9"/>
<line x1="400.5" y1="252.5" x2="405.6" y2="252.5" stroke="#6a6a6a" stroke-width="0.8"/>
<circle cx="403.00" cy="219.40" r="1.3" fill="#d81c1c" stroke="#6a0808" stroke-width="0.45"/>
<circle cx="403.00" cy="241.00" r="1.3" fill="#d81c1c" stroke="#6a0808" stroke-width="0.45"/>
<circle cx="403.00" cy="252.50" r="1.3" fill="#d81c1c" stroke="#6a0808" stroke-width="0.45"/>
<circle cx="403.00" cy="270.60" r="1.3" fill="#d81c1c" stroke="#6a0808" stroke-width="0.45"/>
<circle cx="403.00" cy="285.30" r="1.3" fill="#d81c1c" stroke="#6a0808" stroke-width="0.45"/>
<rect x="410.60" y="250.40" width="4.80" height="8.60" fill="#ffffff" stroke="#8e8e8e" stroke-width="0.9"/>
<line x1="410.6" y1="255.4" x2="415.4" y2="255.4" stroke="#6a6a6a" stroke-width="0.8"/>
<circle cx="413.00" cy="246.80" r="1.3" fill="#000000" stroke="#000000" stroke-width="0.45"/>
<circle cx="413.00" cy="250.70" r="1.3" fill="#000000" stroke="#000000" stroke-width="0.45"/>
<circle cx="413.00" cy="257.60" r="1.3" fill="#000000" stroke="#000000" stroke-width="0.45"/>
<circle cx="413.00" cy="267.70" r="1.3" fill="#000000" stroke="#000000" stroke-width="0.45"/>
<circle cx="420.00" cy="225.10" r="1.3" fill="#1c1cd0" stroke="#000070" stroke-width="0.45"/>
<circle cx="420.00" cy="247.20" r="1.3" fill="#1c1cd0" stroke="#000070" stroke-width="0.45"/>
<circle cx="421.30" cy="248.70" r="1.3" fill="#1c1cd0" stroke="#000070" stroke-width="0.45"/>
<circle cx="419.70" cy="250.10" r="1.3" fill="#1c1cd0" stroke="#000070" stroke-width="0.45"/>
<circle cx="420.00" cy="261.60" r="1.3" fill="#1c1cd0" stroke="#000070" stroke-width="0.45"/>
<circle cx="420.00" cy="265.50" r="1.3" fill="#1c1cd0" stroke="#000070" stroke-width="0.45"/>
<rect x="424.30" y="243.20" width="5.10" height="25.90" fill="#ffffff" stroke="#8e8e8e" stroke-width="0.9"/>
<line x1="424.3" y1="248" x2="429.4" y2="248" stroke="#6a6a6a" stroke-width="0.8"/>
<circle cx="426.80" cy="238.10" r="1.3" fill="#d81c1c" stroke="#6a0808" stroke-width="0.45"/>
<circle cx="428.10" cy="240.30" r="1.3" fill="#d81c1c" stroke="#6a0808" stroke-width="0.45"/>
<circle cx="426.80" cy="247.80" r="1.3" fill="#d81c1c" stroke="#6a0808" stroke-width="0.45"/>
<circle cx="426.80" cy="267.70" r="1.3" fill="#d81c1c" stroke="#6a0808" stroke-width="0.45"/>
<circle cx="428.10" cy="269.40" r="1.3" fill="#d81c1c" stroke="#6a0808" stroke-width="0.45"/>
<line x1="112.5" y1="89.2" x2="254" y2="89.2" stroke="#7f7f7f" stroke-width="2"/>
<line x1="112.5" y1="185.5" x2="254" y2="185.5" stroke="#7f7f7f" stroke-width="2"/>
<line x1="112.5" y1="260.3" x2="254" y2="260.3" stroke="#7f7f7f" stroke-width="2"/>
<line x1="291.9" y1="93.7" x2="431.6" y2="93.7" stroke="#7f7f7f" stroke-width="2"/>
<line x1="291.9" y1="177.3" x2="431.6" y2="177.3" stroke="#7f7f7f" stroke-width="2"/>
<line x1="291.9" y1="263.4" x2="431.6" y2="263.4" stroke="#7f7f7f" stroke-width="2"/>
<rect x="113" y="86.9" width="5.200000000000003" height="2.6" rx="1.3" fill="#000000"/>
<rect x="119.8" y="86.9" width="5.200000000000003" height="2.6" rx="1.3" fill="#1c1cc4"/>
<rect x="126.6" y="86.9" width="5.200000000000017" height="2.6" rx="1.3" fill="#c83030"/>
<rect x="113" y="183.2" width="5.200000000000003" height="2.6" rx="1.3" fill="#000000"/>
<rect x="119.8" y="183.2" width="5.200000000000003" height="2.6" rx="1.3" fill="#1c1cc4"/>
<rect x="126.6" y="183.2" width="5.200000000000017" height="2.6" rx="1.3" fill="#c83030"/>
<rect x="113" y="258.2" width="5.200000000000003" height="2.6" rx="1.3" fill="#000000"/>
<rect x="119.8" y="258.2" width="5.200000000000003" height="2.6" rx="1.3" fill="#1c1cc4"/>
<rect x="126.6" y="258.2" width="5.200000000000017" height="2.6" rx="1.3" fill="#c83030"/>
<rect x="292" y="91.5" width="4.600000000000023" height="2.6" rx="1.3" fill="#000000"/>
<rect x="298.3" y="91.5" width="4.699999999999989" height="2.6" rx="1.3" fill="#1c1cc4"/>
<rect x="304.3" y="91.5" width="5.099999999999966" height="2.6" rx="1.3" fill="#c83030"/>
<rect x="292" y="175.2" width="4.600000000000023" height="2.6" rx="1.3" fill="#000000"/>
<rect x="298.3" y="175.2" width="4.699999999999989" height="2.6" rx="1.3" fill="#1c1cc4"/>
<rect x="304.3" y="175.2" width="5.099999999999966" height="2.6" rx="1.3" fill="#c83030"/>
<rect x="292" y="261.3" width="4.600000000000023" height="2.6" rx="1.3" fill="#000000"/>
<rect x="298.3" y="261.3" width="4.699999999999989" height="2.6" rx="1.3" fill="#1c1cc4"/>
<rect x="304.3" y="261.3" width="5.099999999999966" height="2.6" rx="1.3" fill="#c83030"/>
<text x="379.7" y="126.8" font-size="10.5" text-anchor="middle" fill="#dc1222" stroke="#dc1222" font-weight="bold" style="stroke-width:0.55px" transform="translate(56.95,0) scale(0.85,1)">#</text>
<line x1="105.4" y1="396" x2="105.4" y2="464.5" stroke="#8c8c8c" stroke-width="1"/>
<line x1="105.4" y1="464.5" x2="260" y2="464.5" stroke="#8c8c8c" stroke-width="1"/>
<line x1="127.6" y1="463.0" x2="127.6" y2="466.0" stroke="#8c8c8c" stroke-width="1"/>
<line x1="150.2" y1="463.0" x2="150.2" y2="466.0" stroke="#8c8c8c" stroke-width="1"/>
<line x1="172.8" y1="463.0" x2="172.8" y2="466.0" stroke="#8c8c8c" stroke-width="1"/>
<line x1="195.4" y1="463.0" x2="195.4" y2="466.0" stroke="#8c8c8c" stroke-width="1"/>
<line x1="218" y1="463.0" x2="218" y2="466.0" stroke="#8c8c8c" stroke-width="1"/>
<line x1="240.5" y1="463.0" x2="240.5" y2="466.0" stroke="#8c8c8c" stroke-width="1"/>
<line x1="103.9" y1="397.5" x2="105.4" y2="397.5" stroke="#8c8c8c" stroke-width="1"/>
<text x="100.8" y="401.4" font-size="11" text-anchor="end" fill="#000" stroke="#000" font-weight="normal" >60</text>
<line x1="103.9" y1="419.5" x2="105.4" y2="419.5" stroke="#8c8c8c" stroke-width="1"/>
<text x="100.8" y="423.4" font-size="11" text-anchor="end" fill="#000" stroke="#000" font-weight="normal" >40</text>
<line x1="103.9" y1="442" x2="105.4" y2="442" stroke="#8c8c8c" stroke-width="1"/>
<text x="100.8" y="445.9" font-size="11" text-anchor="end" fill="#000" stroke="#000" font-weight="normal" >20</text>
<line x1="105.4" y1="484.2" x2="105.4" y2="553.5" stroke="#8c8c8c" stroke-width="1"/>
<line x1="105.4" y1="553.5" x2="260" y2="553.5" stroke="#8c8c8c" stroke-width="1"/>
<line x1="127.6" y1="552.0" x2="127.6" y2="555.0" stroke="#8c8c8c" stroke-width="1"/>
<line x1="150.2" y1="552.0" x2="150.2" y2="555.0" stroke="#8c8c8c" stroke-width="1"/>
<line x1="172.8" y1="552.0" x2="172.8" y2="555.0" stroke="#8c8c8c" stroke-width="1"/>
<line x1="195.4" y1="552.0" x2="195.4" y2="555.0" stroke="#8c8c8c" stroke-width="1"/>
<line x1="218" y1="552.0" x2="218" y2="555.0" stroke="#8c8c8c" stroke-width="1"/>
<line x1="240.5" y1="552.0" x2="240.5" y2="555.0" stroke="#8c8c8c" stroke-width="1"/>
<line x1="103.9" y1="484.7" x2="105.4" y2="484.7" stroke="#8c8c8c" stroke-width="1"/>
<text x="100.8" y="488.59999999999997" font-size="11" text-anchor="end" fill="#000" stroke="#000" font-weight="normal" >60</text>
<line x1="103.9" y1="507.4" x2="105.4" y2="507.4" stroke="#8c8c8c" stroke-width="1"/>
<text x="100.8" y="511.29999999999995" font-size="11" text-anchor="end" fill="#000" stroke="#000" font-weight="normal" >40</text>
<line x1="103.9" y1="530.3" x2="105.4" y2="530.3" stroke="#8c8c8c" stroke-width="1"/>
<text x="100.8" y="534.1999999999999" font-size="11" text-anchor="end" fill="#000" stroke="#000" font-weight="normal" >20</text>
<line x1="105.4" y1="573.5" x2="105.4" y2="643" stroke="#8c8c8c" stroke-width="1"/>
<line x1="105.4" y1="643" x2="260" y2="643" stroke="#8c8c8c" stroke-width="1"/>
<line x1="127.6" y1="641.5" x2="127.6" y2="644.5" stroke="#8c8c8c" stroke-width="1"/>
<line x1="150.2" y1="641.5" x2="150.2" y2="644.5" stroke="#8c8c8c" stroke-width="1"/>
<line x1="172.8" y1="641.5" x2="172.8" y2="644.5" stroke="#8c8c8c" stroke-width="1"/>
<line x1="195.4" y1="641.5" x2="195.4" y2="644.5" stroke="#8c8c8c" stroke-width="1"/>
<line x1="218" y1="641.5" x2="218" y2="644.5" stroke="#8c8c8c" stroke-width="1"/>
<line x1="240.5" y1="641.5" x2="240.5" y2="644.5" stroke="#8c8c8c" stroke-width="1"/>
<line x1="103.9" y1="573.8" x2="105.4" y2="573.8" stroke="#8c8c8c" stroke-width="1"/>
<text x="100.8" y="577.6999999999999" font-size="11" text-anchor="end" fill="#000" stroke="#000" font-weight="normal" >60</text>
<line x1="103.9" y1="596.6" x2="105.4" y2="596.6" stroke="#8c8c8c" stroke-width="1"/>
<text x="100.8" y="600.5" font-size="11" text-anchor="end" fill="#000" stroke="#000" font-weight="normal" >40</text>
<line x1="103.9" y1="619.6" x2="105.4" y2="619.6" stroke="#8c8c8c" stroke-width="1"/>
<text x="100.8" y="623.5" font-size="11" text-anchor="end" fill="#000" stroke="#000" font-weight="normal" >20</text>
<line x1="285.7" y1="396" x2="285.7" y2="465.3" stroke="#8c8c8c" stroke-width="1"/>
<line x1="285.7" y1="465.3" x2="444" y2="465.3" stroke="#8c8c8c" stroke-width="1"/>
<line x1="308.6" y1="463.8" x2="308.6" y2="466.8" stroke="#8c8c8c" stroke-width="1"/>
<line x1="331" y1="463.8" x2="331" y2="466.8" stroke="#8c8c8c" stroke-width="1"/>
<line x1="353.6" y1="463.8" x2="353.6" y2="466.8" stroke="#8c8c8c" stroke-width="1"/>
<line x1="376.4" y1="463.8" x2="376.4" y2="466.8" stroke="#8c8c8c" stroke-width="1"/>
<line x1="398.8" y1="463.8" x2="398.8" y2="466.8" stroke="#8c8c8c" stroke-width="1"/>
<line x1="421.3" y1="463.8" x2="421.3" y2="466.8" stroke="#8c8c8c" stroke-width="1"/>
<line x1="284.2" y1="397" x2="285.7" y2="397" stroke="#8c8c8c" stroke-width="1"/>
<line x1="284.2" y1="419.5" x2="285.7" y2="419.5" stroke="#8c8c8c" stroke-width="1"/>
<line x1="284.2" y1="442.7" x2="285.7" y2="442.7" stroke="#8c8c8c" stroke-width="1"/>
<line x1="285.7" y1="484.4" x2="285.7" y2="552.9" stroke="#8c8c8c" stroke-width="1"/>
<line x1="285.7" y1="552.9" x2="444" y2="552.9" stroke="#8c8c8c" stroke-width="1"/>
<line x1="308.6" y1="551.4" x2="308.6" y2="554.4" stroke="#8c8c8c" stroke-width="1"/>
<line x1="331" y1="551.4" x2="331" y2="554.4" stroke="#8c8c8c" stroke-width="1"/>
<line x1="353.6" y1="551.4" x2="353.6" y2="554.4" stroke="#8c8c8c" stroke-width="1"/>
<line x1="376.4" y1="551.4" x2="376.4" y2="554.4" stroke="#8c8c8c" stroke-width="1"/>
<line x1="398.8" y1="551.4" x2="398.8" y2="554.4" stroke="#8c8c8c" stroke-width="1"/>
<line x1="421.3" y1="551.4" x2="421.3" y2="554.4" stroke="#8c8c8c" stroke-width="1"/>
<line x1="284.2" y1="484.4" x2="285.7" y2="484.4" stroke="#8c8c8c" stroke-width="1"/>
<line x1="284.2" y1="506.9" x2="285.7" y2="506.9" stroke="#8c8c8c" stroke-width="1"/>
<line x1="284.2" y1="530.2" x2="285.7" y2="530.2" stroke="#8c8c8c" stroke-width="1"/>
<line x1="285.7" y1="573.4" x2="285.7" y2="642.3" stroke="#8c8c8c" stroke-width="1"/>
<line x1="285.7" y1="642.3" x2="444" y2="642.3" stroke="#8c8c8c" stroke-width="1"/>
<line x1="308.6" y1="640.8" x2="308.6" y2="643.8" stroke="#8c8c8c" stroke-width="1"/>
<line x1="331" y1="640.8" x2="331" y2="643.8" stroke="#8c8c8c" stroke-width="1"/>
<line x1="353.6" y1="640.8" x2="353.6" y2="643.8" stroke="#8c8c8c" stroke-width="1"/>
<line x1="376.4" y1="640.8" x2="376.4" y2="643.8" stroke="#8c8c8c" stroke-width="1"/>
<line x1="398.8" y1="640.8" x2="398.8" y2="643.8" stroke="#8c8c8c" stroke-width="1"/>
<line x1="421.3" y1="640.8" x2="421.3" y2="643.8" stroke="#8c8c8c" stroke-width="1"/>
<line x1="284.2" y1="573.4" x2="285.7" y2="573.4" stroke="#8c8c8c" stroke-width="1"/>
<line x1="284.2" y1="596.4" x2="285.7" y2="596.4" stroke="#8c8c8c" stroke-width="1"/>
<line x1="284.2" y1="619.7" x2="285.7" y2="619.7" stroke="#8c8c8c" stroke-width="1"/>
<text x="117.5" y="657.6" font-size="12" text-anchor="middle" fill="#000" stroke="#000" font-weight="normal" >-7</text>
<text x="140" y="657.6" font-size="12" text-anchor="middle" fill="#000" stroke="#000" font-weight="normal" >2</text>
<text x="161.5" y="657.6" font-size="12" text-anchor="middle" fill="#000" stroke="#000" font-weight="normal" >4</text>
<text x="184" y="657.6" font-size="12" text-anchor="middle" fill="#000" stroke="#000" font-weight="normal" >7</text>
<text x="206" y="657.6" font-size="12" text-anchor="middle" fill="#000" stroke="#000" font-weight="normal" >17</text>
<text x="229" y="657.6" font-size="12" text-anchor="middle" fill="#000" stroke="#000" font-weight="normal" >28</text>
<text x="252.5" y="657.6" font-size="12" text-anchor="middle" fill="#000" stroke="#000" font-weight="normal" >46</text>
<text x="297.3" y="657.6" font-size="12" text-anchor="middle" fill="#000" stroke="#000" font-weight="normal" >-7</text>
<text x="319.6" y="657.6" font-size="12" text-anchor="middle" fill="#000" stroke="#000" font-weight="normal" >2</text>
<text x="341.5" y="657.6" font-size="12" text-anchor="middle" fill="#000" stroke="#000" font-weight="normal" >4</text>
<text x="364.6" y="657.6" font-size="12" text-anchor="middle" fill="#000" stroke="#000" font-weight="normal" >7</text>
<text x="386.9" y="657.6" font-size="12" text-anchor="middle" fill="#000" stroke="#000" font-weight="normal" >17</text>
<text x="410" y="657.6" font-size="12" text-anchor="middle" fill="#000" stroke="#000" font-weight="normal" >28</text>
<text x="433" y="657.6" font-size="12" text-anchor="middle" fill="#000" stroke="#000" font-weight="normal" >46</text>
<text x="106.5" y="672.9" font-size="13" text-anchor="start" fill="#000" stroke="#000" font-weight="normal" >Days after therapy</text>
<rect x="110.30" y="410.40" width="3.20" height="36.10" fill="#a0a0a0" stroke="none" stroke-width="0"/>
<line x1="110.3" y1="436.2" x2="113.5" y2="436.2" stroke="#222" stroke-width="1.2"/>
<rect x="114.90" y="435.00" width="3.30" height="7.20" fill="#1414d2" stroke="none" stroke-width="0"/>
<rect x="119.20" y="423.80" width="3.40" height="13.80" fill="#e01414" stroke="none" stroke-width="0"/>
<line x1="119.2" y1="432.4" x2="122.6" y2="432.4" stroke="#8a0000" stroke-width="1.2"/>
<rect x="133.10" y="404.70" width="3.10" height="40.00" fill="#a0a0a0" stroke="none" stroke-width="0"/>
<line x1="133.1" y1="425.5" x2="136.2" y2="425.5" stroke="#222" stroke-width="1.2"/>
<rect x="137.40" y="431.60" width="3.40" height="8.00" fill="#1414d2" stroke="none" stroke-width="0"/>
<rect x="141.50" y="422.70" width="3.40" height="8.80" fill="#e01414" stroke="none" stroke-width="0"/>
<line x1="141.5" y1="427.3" x2="144.9" y2="427.3" stroke="#8a0000" stroke-width="1.2"/>
<rect x="155.70" y="411.90" width="3.20" height="27.70" fill="#a0a0a0" stroke="none" stroke-width="0"/>
<line x1="155.7" y1="425.5" x2="158.9" y2="425.5" stroke="#222" stroke-width="1.2"/>
<rect x="160.00" y="417.80" width="3.10" height="16.10" fill="#1414d2" stroke="none" stroke-width="0"/>
<rect x="164.30" y="423.50" width="3.40" height="6.40" fill="#e01414" stroke="none" stroke-width="0"/>
<rect x="177.90" y="416.40" width="3.10" height="31.00" fill="#a0a0a0" stroke="none" stroke-width="0"/>
<line x1="177.9" y1="430" x2="181" y2="430" stroke="#222" stroke-width="1.2"/>
<rect x="182.70" y="413.30" width="3.30" height="27.30" fill="#1414d2" stroke="none" stroke-width="0"/>
<rect x="186.90" y="422.30" width="3.10" height="7.70" fill="#e01414" stroke="none" stroke-width="0"/>
<line x1="186.9" y1="425.9" x2="190" y2="425.9" stroke="#8a0000" stroke-width="1.2"/>
<rect x="200.30" y="415.20" width="3.00" height="25.40" fill="#a0a0a0" stroke="none" stroke-width="0"/>
<line x1="200.3" y1="427.2" x2="203.3" y2="427.2" stroke="#222" stroke-width="1.2"/>
<rect x="204.90" y="427.80" width="3.10" height="7.50" fill="#1414d2" stroke="none" stroke-width="0"/>
<rect x="209.30" y="420.10" width="3.30" height="16.40" fill="#e01414" stroke="none" stroke-width="0"/>
<line x1="209.3" y1="432.4" x2="212.6" y2="432.4" stroke="#8a0000" stroke-width="1.2"/>
<rect x="223.20" y="419.70" width="3.00" height="23.80" fill="#a0a0a0" stroke="none" stroke-width="0"/>
<line x1="223.2" y1="430.4" x2="226.2" y2="430.4" stroke="#222" stroke-width="1.2"/>
<rect x="227.30" y="431.60" width="3.30" height="9.00" fill="#1414d2" stroke="none" stroke-width="0"/>
<rect x="231.90" y="419.00" width="3.30" height="13.40" fill="#e01414" stroke="none" stroke-width="0"/>
<line x1="231.9" y1="420.1" x2="235.2" y2="420.1" stroke="#8a0000" stroke-width="1.2"/>
<rect x="245.60" y="414.70" width="3.00" height="28.30" fill="#a0a0a0" stroke="none" stroke-width="0"/>
<line x1="245.6" y1="430" x2="248.6" y2="430" stroke="#222" stroke-width="1.2"/>
<rect x="250.20" y="435.70" width="2.90" height="8.10" fill="#1414d2" stroke="none" stroke-width="0"/>
<rect x="254.30" y="429.10" width="3.20" height="8.50" fill="#e01414" stroke="none" stroke-width="0"/>
<line x1="254.3" y1="433.7" x2="257.5" y2="433.7" stroke="#8a0000" stroke-width="1.2"/>
<rect x="110.80" y="500.50" width="3.00" height="17.20" fill="#a0a0a0" stroke="none" stroke-width="0"/>
<line x1="110.8" y1="514.3" x2="113.8" y2="514.3" stroke="#222" stroke-width="1.2"/>
<rect x="115.40" y="495.40" width="3.40" height="22.30" fill="#1414d2" stroke="none" stroke-width="0"/>
<rect x="119.70" y="488.20" width="3.40" height="25.20" fill="#e01414" stroke="none" stroke-width="0"/>
<line x1="119.7" y1="498.5" x2="123.1" y2="498.5" stroke="#8a0000" stroke-width="1.2"/>
<rect x="133.80" y="490.80" width="3.10" height="26.10" fill="#a0a0a0" stroke="none" stroke-width="0"/>
<line x1="133.8" y1="503.8" x2="136.9" y2="503.8" stroke="#222" stroke-width="1.2"/>
<rect x="138.20" y="493.10" width="3.00" height="26.90" fill="#1414d2" stroke="none" stroke-width="0"/>
<rect x="142.60" y="482.30" width="3.20" height="24.90" fill="#e01414" stroke="none" stroke-width="0"/>
<line x1="142.6" y1="497.7" x2="145.8" y2="497.7" stroke="#8a0000" stroke-width="1.2"/>
<rect x="156.20" y="491.50" width="3.00" height="13.10" fill="#a0a0a0" stroke="none" stroke-width="0"/>
<line x1="156.2" y1="502" x2="159.2" y2="502" stroke="#222" stroke-width="1.2"/>
<rect x="160.50" y="488.20" width="3.30" height="23.00" fill="#1414d2" stroke="none" stroke-width="0"/>
<rect x="165.10" y="484.60" width="3.40" height="15.90" fill="#e01414" stroke="none" stroke-width="0"/>
<rect x="179.10" y="488.00" width="2.90" height="27.00" fill="#a0a0a0" stroke="none" stroke-width="0"/>
<line x1="179.1" y1="497" x2="182" y2="497" stroke="#222" stroke-width="1.2"/>
<rect x="183.50" y="482.30" width="2.90" height="23.30" fill="#1414d2" stroke="none" stroke-width="0"/>
<rect x="188.10" y="486.00" width="3.20" height="18.80" fill="#e01414" stroke="none" stroke-width="0"/>
<line x1="188.1" y1="494.8" x2="191.3" y2="494.8" stroke="#8a0000" stroke-width="1.2"/>
<rect x="201.60" y="481.80" width="3.10" height="29.90" fill="#a0a0a0" stroke="none" stroke-width="0"/>
<line x1="201.6" y1="496.2" x2="204.7" y2="496.2" stroke="#222" stroke-width="1.2"/>
<rect x="206.40" y="502.70" width="2.90" height="14.70" fill="#1414d2" stroke="none" stroke-width="0"/>
<rect x="210.10" y="486.30" width="3.60" height="34.40" fill="#e01414" stroke="none" stroke-width="0"/>
<line x1="210.1" y1="505.1" x2="213.7" y2="505.1" stroke="#8a0000" stroke-width="1.2"/>
<rect x="224.40" y="485.50" width="2.90" height="22.10" fill="#a0a0a0" stroke="none" stroke-width="0"/>
<line x1="224.4" y1="498.1" x2="227.3" y2="498.1" stroke="#222" stroke-width="1.2"/>
<rect x="228.60" y="502.40" width="3.10" height="7.60" fill="#1414d2" stroke="none" stroke-width="0"/>
<rect x="233.00" y="483.40" width="3.30" height="30.40" fill="#e01414" stroke="none" stroke-width="0"/>
<line x1="233" y1="489.3" x2="236.3" y2="489.3" stroke="#8a0000" stroke-width="1.2"/>
<rect x="246.90" y="489.90" width="3.30" height="24.60" fill="#a0a0a0" stroke="none" stroke-width="0"/>
<line x1="246.9" y1="507.6" x2="250.2" y2="507.6" stroke="#222" stroke-width="1.2"/>
<rect x="251.30" y="504.70" width="3.00" height="17.30" fill="#1414d2" stroke="none" stroke-width="0"/>
<rect x="255.90" y="495.30" width="3.30" height="25.70" fill="#e01414" stroke="none" stroke-width="0"/>
<line x1="255.9" y1="505.1" x2="259.2" y2="505.1" stroke="#8a0000" stroke-width="1.2"/>
<rect x="110.80" y="613.80" width="3.00" height="2.60" fill="#a0a0a0" stroke="none" stroke-width="0"/>
<line x1="110.8" y1="615" x2="113.8" y2="615" stroke="#222" stroke-width="1.2"/>
<rect x="114.90" y="599.60" width="3.30" height="13.90" fill="#1414d2" stroke="none" stroke-width="0"/>
<rect x="119.70" y="585.80" width="3.40" height="24.90" fill="#e01414" stroke="none" stroke-width="0"/>
<line x1="119.7" y1="605.8" x2="123.1" y2="605.8" stroke="#8a0000" stroke-width="1.2"/>
<rect x="133.50" y="616.80" width="3.00" height="6.20" fill="#a0a0a0" stroke="none" stroke-width="0"/>
<line x1="133.5" y1="620.8" x2="136.5" y2="620.8" stroke="#222" stroke-width="1.2"/>
<rect x="138.00" y="603.50" width="3.20" height="17.30" fill="#1414d2" stroke="none" stroke-width="0"/>
<rect x="142.60" y="582.40" width="3.20" height="24.60" fill="#e01414" stroke="none" stroke-width="0"/>
<line x1="142.6" y1="605" x2="145.8" y2="605" stroke="#8a0000" stroke-width="1.2"/>
<rect x="156.20" y="587.60" width="3.00" height="7.40" fill="#a0a0a0" stroke="none" stroke-width="0"/>
<line x1="156.2" y1="591.2" x2="159.2" y2="591.2" stroke="#222" stroke-width="1.2"/>
<rect x="160.50" y="596.80" width="3.30" height="16.40" fill="#1414d2" stroke="none" stroke-width="0"/>
<rect x="164.90" y="584.50" width="3.10" height="14.30" fill="#e01414" stroke="none" stroke-width="0"/>
<line x1="164.9" y1="593.2" x2="168" y2="593.2" stroke="#8a0000" stroke-width="1.2"/>
<rect x="179.10" y="593.90" width="2.90" height="13.70" fill="#a0a0a0" stroke="none" stroke-width="0"/>
<line x1="179.1" y1="601.6" x2="182" y2="601.6" stroke="#222" stroke-width="1.2"/>
<rect x="183.20" y="592.90" width="3.20" height="22.90" fill="#1414d2" stroke="none" stroke-width="0"/>
<rect x="187.70" y="590.10" width="3.20" height="9.40" fill="#e01414" stroke="none" stroke-width="0"/>
<line x1="187.7" y1="597.5" x2="190.9" y2="597.5" stroke="#8a0000" stroke-width="1.2"/>
<rect x="201.60" y="604.40" width="2.80" height="4.90" fill="#a0a0a0" stroke="none" stroke-width="0"/>
<line x1="201.6" y1="607" x2="204.4" y2="607" stroke="#222" stroke-width="1.2"/>
<rect x="206.10" y="597.80" width="2.90" height="27.20" fill="#1414d2" stroke="none" stroke-width="0"/>
<rect x="210.60" y="599.10" width="3.30" height="22.10" fill="#e01414" stroke="none" stroke-width="0"/>
<line x1="210.6" y1="616.3" x2="213.9" y2="616.3" stroke="#8a0000" stroke-width="1.2"/>
<rect x="224.00" y="593.90" width="3.00" height="14.20" fill="#a0a0a0" stroke="none" stroke-width="0"/>
<line x1="224" y1="600.8" x2="227" y2="600.8" stroke="#222" stroke-width="1.2"/>
<rect x="228.60" y="593.40" width="3.10" height="20.10" fill="#1414d2" stroke="none" stroke-width="0"/>
<rect x="233.00" y="591.80" width="3.30" height="25.00" fill="#e01414" stroke="none" stroke-width="0"/>
<rect x="246.90" y="611.40" width="3.00" height="7.30" fill="#a0a0a0" stroke="none" stroke-width="0"/>
<line x1="246.9" y1="615.5" x2="249.9" y2="615.5" stroke="#222" stroke-width="1.2"/>
<rect x="251.00" y="610.60" width="3.30" height="9.80" fill="#1414d2" stroke="none" stroke-width="0"/>
<rect x="255.60" y="583.10" width="3.30" height="46.30" fill="#e01414" stroke="none" stroke-width="0"/>
<rect x="291.20" y="444.00" width="2.60" height="11.30" fill="#a0a0a0" stroke="none" stroke-width="0"/>
<line x1="291.2" y1="450.1" x2="293.8" y2="450.1" stroke="#222" stroke-width="1.2"/>
<rect x="295.20" y="435.70" width="3.00" height="17.00" fill="#1414d2" stroke="none" stroke-width="0"/>
<rect x="299.90" y="439.70" width="3.10" height="8.70" fill="#e01414" stroke="none" stroke-width="0"/>
<rect x="313.40" y="423.80" width="3.30" height="18.90" fill="#a0a0a0" stroke="none" stroke-width="0"/>
<line x1="313.4" y1="433.3" x2="316.7" y2="433.3" stroke="#222" stroke-width="1.2"/>
<rect x="318.10" y="431.10" width="3.10" height="20.70" fill="#1414d2" stroke="none" stroke-width="0"/>
<rect x="322.90" y="420.20" width="3.00" height="8.60" fill="#e01414" stroke="none" stroke-width="0"/>
<rect x="336.20" y="430.20" width="3.00" height="6.00" fill="#a0a0a0" stroke="none" stroke-width="0"/>
<line x1="336.2" y1="435" x2="339.2" y2="435" stroke="#222" stroke-width="1.2"/>
<rect x="340.90" y="430.70" width="3.10" height="19.40" fill="#1414d2" stroke="none" stroke-width="0"/>
<rect x="345.40" y="430.50" width="3.00" height="5.70" fill="#e01414" stroke="none" stroke-width="0"/>
<line x1="345.4" y1="431.6" x2="348.4" y2="431.6" stroke="#8a0000" stroke-width="1.2"/>
<rect x="358.70" y="429.30" width="3.00" height="16.10" fill="#a0a0a0" stroke="none" stroke-width="0"/>
<line x1="358.7" y1="436.2" x2="361.7" y2="436.2" stroke="#222" stroke-width="1.2"/>
<rect x="363.90" y="432.30" width="3.00" height="16.60" fill="#1414d2" stroke="none" stroke-width="0"/>
<rect x="368.00" y="433.00" width="2.90" height="1.50" fill="#e01414" stroke="none" stroke-width="0"/>
<rect x="381.80" y="438.00" width="3.00" height="8.60" fill="#a0a0a0" stroke="none" stroke-width="0"/>
<line x1="381.8" y1="438.8" x2="384.8" y2="438.8" stroke="#222" stroke-width="1.2"/>
<rect x="386.20" y="433.30" width="3.10" height="19.40" fill="#1414d2" stroke="none" stroke-width="0"/>
<rect x="391.00" y="440.90" width="2.90" height="10.10" fill="#e01414" stroke="none" stroke-width="0"/>
<line x1="391" y1="446.6" x2="393.9" y2="446.6" stroke="#8a0000" stroke-width="1.2"/>
<rect x="404.80" y="435.70" width="3.00" height="6.30" fill="#a0a0a0" stroke="none" stroke-width="0"/>
<line x1="404.8" y1="436.2" x2="407.8" y2="436.2" stroke="#222" stroke-width="1.2"/>
<rect x="409.00" y="430.20" width="3.10" height="20.80" fill="#1414d2" stroke="none" stroke-width="0"/>
<rect x="413.50" y="430.50" width="2.90" height="10.90" fill="#e01414" stroke="none" stroke-width="0"/>
<line x1="413.5" y1="435" x2="416.4" y2="435" stroke="#8a0000" stroke-width="1.2"/>
<rect x="427.70" y="439.70" width="2.90" height="11.30" fill="#a0a0a0" stroke="none" stroke-width="0"/>
<line x1="427.7" y1="448.4" x2="430.6" y2="448.4" stroke="#222" stroke-width="1.2"/>
<rect x="432.00" y="439.70" width="3.00" height="9.50" fill="#1414d2" stroke="none" stroke-width="0"/>
<rect x="436.30" y="444.40" width="3.20" height="6.60" fill="#e01414" stroke="none" stroke-width="0"/>
<rect x="291.20" y="521.20" width="2.60" height="8.20" fill="#a0a0a0" stroke="none" stroke-width="0"/>
<line x1="291.2" y1="525.9" x2="293.8" y2="525.9" stroke="#222" stroke-width="1.2"/>
<rect x="295.90" y="518.30" width="2.80" height="5.20" fill="#1414d2" stroke="none" stroke-width="0"/>
<rect x="299.90" y="512.10" width="3.10" height="9.70" fill="#e01414" stroke="none" stroke-width="0"/>
<rect x="314.10" y="492.30" width="2.80" height="17.40" fill="#a0a0a0" stroke="none" stroke-width="0"/>
<line x1="314.1" y1="497" x2="316.9" y2="497" stroke="#222" stroke-width="1.2"/>
<rect x="318.40" y="506.20" width="2.80" height="19.70" fill="#1414d2" stroke="none" stroke-width="0"/>
<rect x="322.90" y="482.00" width="3.00" height="7.20" fill="#e01414" stroke="none" stroke-width="0"/>
<rect x="336.20" y="494.80" width="3.00" height="6.90" fill="#a0a0a0" stroke="none" stroke-width="0"/>
<line x1="336.2" y1="496.5" x2="339.2" y2="496.5" stroke="#222" stroke-width="1.2"/>
<rect x="340.90" y="509.10" width="3.10" height="16.50" fill="#1414d2" stroke="none" stroke-width="0"/>
<rect x="358.80" y="491.30" width="2.80" height="24.80" fill="#a0a0a0" stroke="none" stroke-width="0"/>
<line x1="358.8" y1="504.5" x2="361.6" y2="504.5" stroke="#222" stroke-width="1.2"/>
<rect x="363.30" y="487.20" width="2.90" height="46.70" fill="#1414d2" stroke="none" stroke-width="0"/>
<rect x="367.60" y="489.20" width="3.00" height="22.50" fill="#e01414" stroke="none" stroke-width="0"/>
<line x1="367.6" y1="497.5" x2="370.6" y2="497.5" stroke="#8a0000" stroke-width="1.2"/>
<rect x="381.30" y="506.20" width="2.80" height="16.80" fill="#a0a0a0" stroke="none" stroke-width="0"/>
<line x1="381.3" y1="509.1" x2="384.1" y2="509.1" stroke="#222" stroke-width="1.2"/>
<rect x="385.80" y="518.30" width="2.90" height="9.40" fill="#1414d2" stroke="none" stroke-width="0"/>
<rect x="390.10" y="504.80" width="3.00" height="26.00" fill="#e01414" stroke="none" stroke-width="0"/>
<line x1="390.1" y1="524.7" x2="393.1" y2="524.7" stroke="#8a0000" stroke-width="1.2"/>
<rect x="404.00" y="500.00" width="2.90" height="11.70" fill="#a0a0a0" stroke="none" stroke-width="0"/>
<line x1="404" y1="502.2" x2="406.9" y2="502.2" stroke="#222" stroke-width="1.2"/>
<rect x="408.30" y="516.90" width="3.10" height="8.30" fill="#1414d2" stroke="none" stroke-width="0"/>
<rect x="412.60" y="501.00" width="3.00" height="19.00" fill="#e01414" stroke="none" stroke-width="0"/>
<line x1="412.6" y1="510.3" x2="415.6" y2="510.3" stroke="#8a0000" stroke-width="1.2"/>
<rect x="426.50" y="516.90" width="2.90" height="12.10" fill="#a0a0a0" stroke="none" stroke-width="0"/>
<line x1="426.5" y1="523.8" x2="429.4" y2="523.8" stroke="#222" stroke-width="1.2"/>
<rect x="430.80" y="517.80" width="2.90" height="13.80" fill="#1414d2" stroke="none" stroke-width="0"/>
<rect x="435.10" y="513.80" width="3.30" height="25.60" fill="#e01414" stroke="none" stroke-width="0"/>
<line x1="435.1" y1="532.5" x2="438.4" y2="532.5" stroke="#8a0000" stroke-width="1.2"/>
<rect x="344.90" y="490.60" width="3.50" height="1.80" fill="#300" stroke="none" stroke-width="0"/>
<rect x="291.20" y="605.70" width="2.60" height="9.20" fill="#a0a0a0" stroke="none" stroke-width="0"/>
<line x1="291.2" y1="613.7" x2="293.8" y2="613.7" stroke="#222" stroke-width="1.2"/>
<rect x="295.90" y="592.90" width="2.80" height="19.80" fill="#1414d2" stroke="none" stroke-width="0"/>
<rect x="300.20" y="605.00" width="3.20" height="10.40" fill="#e01414" stroke="none" stroke-width="0"/>
<line x1="300.2" y1="608.5" x2="303.4" y2="608.5" stroke="#8a0000" stroke-width="1.2"/>
<rect x="313.70" y="589.50" width="3.00" height="14.50" fill="#a0a0a0" stroke="none" stroke-width="0"/>
<line x1="313.7" y1="597.1" x2="316.7" y2="597.1" stroke="#222" stroke-width="1.2"/>
<rect x="318.40" y="589.50" width="3.10" height="22.80" fill="#1414d2" stroke="none" stroke-width="0"/>
<rect x="322.90" y="589.50" width="3.00" height="9.30" fill="#e01414" stroke="none" stroke-width="0"/>
<line x1="322.9" y1="595.9" x2="325.9" y2="595.9" stroke="#8a0000" stroke-width="1.2"/>
<rect x="336.80" y="573.40" width="2.90" height="14.30" fill="#a0a0a0" stroke="none" stroke-width="0"/>
<line x1="336.8" y1="578" x2="339.7" y2="578" stroke="#222" stroke-width="1.2"/>
<rect x="340.90" y="586.00" width="3.10" height="25.40" fill="#1414d2" stroke="none" stroke-width="0"/>
<rect x="345.40" y="580.30" width="3.30" height="4.70" fill="#e01414" stroke="none" stroke-width="0"/>
<line x1="345.4" y1="582.5" x2="348.7" y2="582.5" stroke="#8a0000" stroke-width="1.2"/>
<rect x="359.30" y="571.60" width="3.00" height="18.20" fill="#a0a0a0" stroke="none" stroke-width="0"/>
<line x1="359.3" y1="581.5" x2="362.3" y2="581.5" stroke="#222" stroke-width="1.2"/>
<rect x="363.70" y="570.40" width="3.10" height="44.00" fill="#1414d2" stroke="none" stroke-width="0"/>
<rect x="368.50" y="570.40" width="2.90" height="24.90" fill="#e01414" stroke="none" stroke-width="0"/>
<line x1="368.5" y1="582.9" x2="371.4" y2="582.9" stroke="#8a0000" stroke-width="1.2"/>
<rect x="382.30" y="587.20" width="3.00" height="17.80" fill="#a0a0a0" stroke="none" stroke-width="0"/>
<line x1="382.3" y1="595.3" x2="385.3" y2="595.3" stroke="#222" stroke-width="1.2"/>
<rect x="386.50" y="604.00" width="2.80" height="4.00" fill="#1414d2" stroke="none" stroke-width="0"/>
<rect x="391.00" y="592.90" width="2.90" height="23.70" fill="#e01414" stroke="none" stroke-width="0"/>
<rect x="404.80" y="576.30" width="2.60" height="20.10" fill="#a0a0a0" stroke="none" stroke-width="0"/>
<line x1="404.8" y1="583.7" x2="407.4" y2="583.7" stroke="#222" stroke-width="1.2"/>
<rect x="409.20" y="589.50" width="2.90" height="3.40" fill="#1414d2" stroke="none" stroke-width="0"/>
<rect x="413.50" y="586.00" width="2.90" height="26.70" fill="#e01414" stroke="none" stroke-width="0"/>
<line x1="413.5" y1="597.1" x2="416.4" y2="597.1" stroke="#8a0000" stroke-width="1.2"/>
<rect x="427.30" y="594.10" width="3.00" height="23.40" fill="#a0a0a0" stroke="none" stroke-width="0"/>
<line x1="427.3" y1="605.4" x2="430.3" y2="605.4" stroke="#222" stroke-width="1.2"/>
<rect x="432.00" y="601.00" width="3.00" height="9.20" fill="#1414d2" stroke="none" stroke-width="0"/>
<rect x="436.30" y="617.50" width="3.00" height="6.90" fill="#e01414" stroke="none" stroke-width="0"/>
<text x="324.1" y="391.6" font-size="10.5" text-anchor="middle" fill="#dc1222" stroke="#dc1222" font-weight="bold" style="stroke-width:0.55px" transform="translate(48.62,0) scale(0.85,1)">#</text>
<text x="338" y="391.6" font-size="10.5" text-anchor="middle" fill="#767676" stroke="#767676" font-weight="normal" style="stroke-width:0.3px" transform="translate(50.70,0) scale(0.85,1)">#</text>
<text x="347.8" y="391.6" font-size="10.5" text-anchor="middle" fill="#dc1222" stroke="#dc1222" font-weight="bold" style="stroke-width:0.55px" transform="translate(52.17,0) scale(0.85,1)">#</text>
<text x="315" y="475.8" font-size="10.5" text-anchor="middle" fill="#767676" stroke="#767676" font-weight="normal" style="stroke-width:0.3px" transform="translate(47.25,0) scale(0.85,1)">#</text>
<text x="324.5" y="475.8" font-size="10.5" text-anchor="middle" fill="#dc1222" stroke="#dc1222" font-weight="bold" style="stroke-width:0.55px" transform="translate(48.67,0) scale(0.85,1)">#</text>
<text x="338.5" y="475.8" font-size="10.5" text-anchor="middle" fill="#767676" stroke="#767676" font-weight="normal" style="stroke-width:0.3px" transform="translate(50.77,0) scale(0.85,1)">#</text>
<text x="348" y="475.8" font-size="10.5" text-anchor="middle" fill="#dc1222" stroke="#dc1222" font-weight="bold" style="stroke-width:0.55px" transform="translate(52.20,0) scale(0.85,1)">#</text>
<text x="370.2" y="475.8" font-size="10.5" text-anchor="middle" fill="#dc1222" stroke="#dc1222" font-weight="bold" style="stroke-width:0.55px" transform="translate(55.53,0) scale(0.85,1)">#</text>
<text x="382.3" y="475.8" font-size="10.5" text-anchor="middle" fill="#767676" stroke="#767676" font-weight="normal" style="stroke-width:0.3px" transform="translate(57.34,0) scale(0.85,1)">#</text>
<text x="156.2" y="567.3" font-size="10.5" text-anchor="middle" fill="#767676" stroke="#767676" font-weight="normal" style="stroke-width:0.3px" transform="translate(23.43,0) scale(0.85,1)">#</text>
<text x="179.9" y="567.3" font-size="10.5" text-anchor="middle" fill="#767676" stroke="#767676" font-weight="normal" style="stroke-width:0.3px" transform="translate(26.98,0) scale(0.85,1)">#</text>
<text x="202.5" y="567.3" font-size="10.5" text-anchor="middle" fill="#767676" stroke="#767676" font-weight="normal" style="stroke-width:0.3px" transform="translate(30.38,0) scale(0.85,1)">#</text>
<text x="314.3" y="567.3" font-size="10.5" text-anchor="middle" fill="#767676" stroke="#767676" font-weight="normal" style="stroke-width:0.3px" transform="translate(47.15,0) scale(0.85,1)">#</text>
<text x="324.1" y="567.3" font-size="10.5" text-anchor="middle" fill="#dc1222" stroke="#dc1222" font-weight="bold" style="stroke-width:0.55px" transform="translate(48.62,0) scale(0.85,1)">#</text>
<text x="338" y="567.3" font-size="10.5" text-anchor="middle" fill="#767676" stroke="#767676" font-weight="normal" style="stroke-width:0.3px" transform="translate(50.70,0) scale(0.85,1)">#</text>
<text x="347.5" y="567.3" font-size="10.5" text-anchor="middle" fill="#dc1222" stroke="#dc1222" font-weight="bold" style="stroke-width:0.55px" transform="translate(52.12,0) scale(0.85,1)">#</text>
<text x="360.3" y="567.3" font-size="10.5" text-anchor="middle" fill="#767676" stroke="#767676" font-weight="normal" style="stroke-width:0.3px" transform="translate(54.05,0) scale(0.85,1)">#</text>
<text x="369.4" y="567.3" font-size="10.5" text-anchor="middle" fill="#dc1222" stroke="#dc1222" font-weight="bold" style="stroke-width:0.55px" transform="translate(55.41,0) scale(0.85,1)">#</text>
<text x="405.5" y="567.3" font-size="10.5" text-anchor="middle" fill="#767676" stroke="#767676" font-weight="normal" style="stroke-width:0.3px" transform="translate(60.82,0) scale(0.85,1)">#</text>
<text x="414.7" y="567.3" font-size="10.5" text-anchor="middle" fill="#dc1222" stroke="#dc1222" font-weight="bold" style="stroke-width:0.55px" transform="translate(62.20,0) scale(0.85,1)">#</text>
</svg>
</body></html>
